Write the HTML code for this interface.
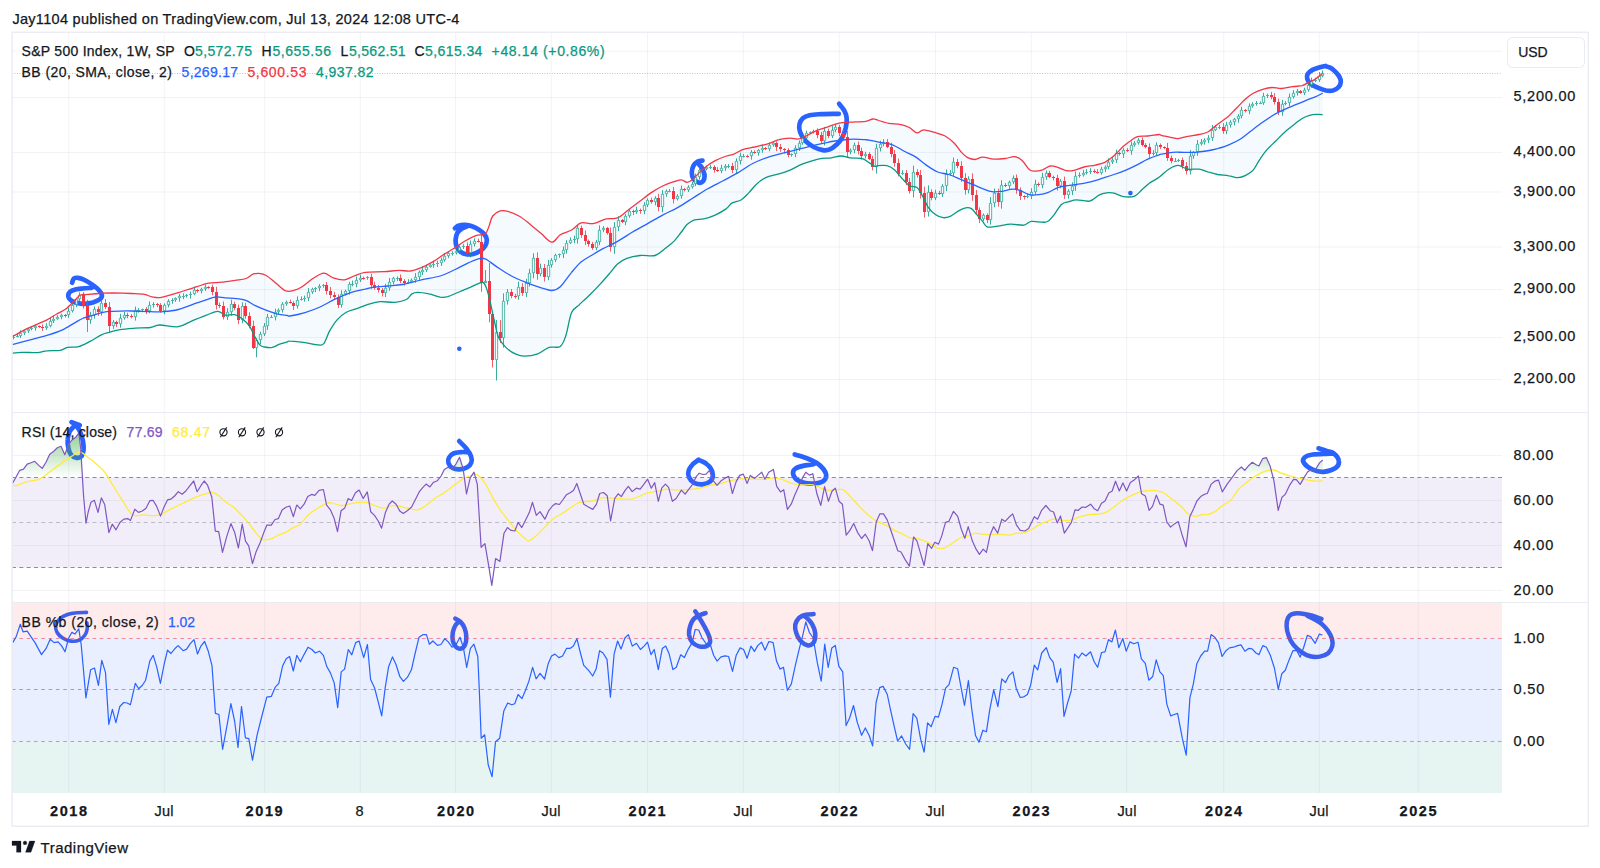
<!DOCTYPE html><html><head><meta charset="utf-8"><title>S&amp;P 500 Index chart</title>
<style>html,body{margin:0;padding:0;background:#fff}body{width:1600px;height:868px;overflow:hidden}svg{display:block}text{font-family:"Liberation Sans",Arial,sans-serif}</style></head><body>
<svg width="1600" height="868" viewBox="0 0 1600 868">
<rect width="1600" height="868" fill="#fff"/>
<rect x="12" y="477.5" width="1490" height="90" fill="#7e57c2" fill-opacity="0.1"/>
<rect x="12" y="602.5" width="1490" height="35.5" fill="#f23645" fill-opacity="0.1"/>
<rect x="12" y="638" width="1490" height="103" fill="#2962ff" fill-opacity="0.1"/>
<rect x="12" y="741" width="1490" height="52" fill="#089981" fill-opacity="0.1"/>
<path d="M68.75 32V793M164.25 32V793M264.75 32V793M360.25 32V793M455.5 32V793M551.25 32V793M647.5 32V793M743.25 32V793M839.25 32V793M935.5 32V793M1031.25 32V793M1126.75 32V793M1223.75 32V793M1319.25 32V793M1418.25 32V793M12 51.2H1502M12 97.5H1502M12 152.5H1502M12 192H1502M12 247H1502M12 289.5H1502M12 337.5H1502M12 379.5H1502M12 455.5H1502M12 500.5H1502M12 545.5H1502M12 590.5H1502" stroke="#131722" stroke-opacity="0.05" stroke-width="1" fill="none"/>
<defs><clipPath id="c1"><rect x="12" y="32" width="1490" height="380"/></clipPath>
<clipPath id="c2"><rect x="12" y="412" width="1490" height="190"/></clipPath>
<clipPath id="c3"><rect x="12" y="602" width="1490" height="191"/></clipPath>
<linearGradient id="gg" x1="0" y1="0" x2="0" y2="1" gradientUnits="userSpaceOnUse" ><stop offset="0" stop-color="#4caf50" stop-opacity="0.75"/><stop offset="1" stop-color="#4caf50" stop-opacity="0"/></linearGradient>
</defs>
<path d="M12 73.5H1502" stroke="#089981" stroke-opacity="0.4" stroke-width="1" stroke-dasharray="1 1.5" fill="none"/>
<g clip-path="url(#c1)">
<path d="M12.2 336.7C14.9 335.3 22.4 331.0 28.2 328.2C33.9 325.4 42.2 322.1 46.9 319.8C51.6 317.4 53.2 315.9 56.3 314.2C59.4 312.4 62.6 311.4 65.7 309.1C68.8 306.7 72.6 302.4 75.1 300.1C77.6 297.7 78.5 295.9 80.7 295.0C82.9 294.1 84.5 294.8 88.2 294.4C92.0 294.1 99.2 293.4 103.2 293.1C107.3 292.9 107.9 292.9 112.6 292.9C117.3 293.0 126.1 293.3 131.4 293.5C136.7 293.8 141.1 293.9 144.5 294.4C148.0 295.0 149.2 296.4 152.1 296.9C154.9 297.4 157.1 298.2 161.4 297.4C165.8 296.7 172.4 294.4 178.3 292.6C184.3 290.7 192.1 288.1 197.1 286.6C202.1 285.0 204.3 283.9 208.4 283.2C212.4 282.5 217.1 282.7 221.5 282.2C225.9 281.8 230.6 281.0 234.7 280.4C238.7 279.7 242.9 279.5 245.9 278.5C248.9 277.5 250.3 275.2 252.5 274.4C254.7 273.5 256.7 273.2 259.1 273.4C261.4 273.6 263.8 274.0 266.6 275.7C269.4 277.3 272.8 280.7 276.0 283.2C279.1 285.7 282.5 289.4 285.3 290.7C288.2 291.9 290.2 291.3 292.8 290.7C295.5 290.1 298.0 289.3 301.3 287.3C304.5 285.3 308.8 281.2 312.5 278.8C316.3 276.5 320.3 273.4 323.8 273.2C327.2 273.1 329.7 276.8 333.2 277.9C336.6 279.0 341.0 280.1 344.4 279.8C347.9 279.5 350.4 277.3 353.8 276.0C357.3 274.8 360.1 273.0 365.1 272.3C370.1 271.6 378.2 272.0 383.9 271.7C389.5 271.4 394.5 270.5 398.9 270.4C403.3 270.3 406.4 271.4 410.1 271.0C413.9 270.5 417.7 269.1 421.4 267.6C425.2 266.1 428.9 264.1 432.7 261.9C436.4 259.8 440.5 256.6 443.9 254.4C447.4 252.2 449.9 251.0 453.3 248.8C456.8 246.6 460.8 243.5 464.6 241.3C468.3 239.1 472.4 236.9 475.8 235.7C479.3 234.4 483.0 235.4 485.2 233.8C487.4 232.2 487.7 229.3 489.0 226.3C490.2 223.3 490.9 218.5 492.7 216.0C494.6 213.4 497.7 211.7 500.2 210.9C502.8 210.1 504.6 210.4 507.8 211.3C510.9 212.1 515.3 213.8 519.0 216.0C522.8 218.1 526.5 221.4 530.3 224.4C534.0 227.4 538.0 230.8 541.5 233.8C545.1 236.8 548.7 242.1 551.9 242.2C555.0 242.4 557.0 236.8 560.3 234.7C563.6 232.7 568.1 232.0 571.6 230.0C575.0 228.1 577.4 224.0 581.0 222.9C584.6 221.8 588.9 224.2 593.1 223.6C597.4 222.9 602.2 219.8 606.3 218.9C610.3 217.9 613.8 219.5 617.5 217.9C621.3 216.4 625.1 212.3 628.8 209.5C632.6 206.7 636.3 203.9 640.1 201.0C643.8 198.2 647.6 195.1 651.3 192.6C655.1 190.1 658.8 187.8 662.6 186.0C666.4 184.2 670.7 182.7 673.9 181.7C677.0 180.7 679.2 179.7 681.4 179.8C683.6 179.9 685.1 182.3 687.0 182.3C688.9 182.2 689.8 181.8 692.6 179.5C695.4 177.1 700.1 171.3 703.9 168.2C707.7 165.1 711.4 162.7 715.2 160.7C718.9 158.7 723.3 157.1 726.4 156.0C729.6 154.9 731.1 155.2 733.9 154.1C736.7 153.0 739.9 150.6 743.3 149.4C746.8 148.2 750.5 147.9 754.6 147.0C758.6 146.0 763.7 145.0 767.7 143.8C771.8 142.6 775.2 140.6 779.0 139.7C782.7 138.7 787.1 138.3 790.2 138.2C793.4 138.1 795.3 139.4 797.8 139.1C800.3 138.8 802.1 137.7 805.3 136.3C808.4 134.9 812.8 132.2 816.5 130.6C820.3 129.1 824.0 128.1 827.8 126.9C831.5 125.6 835.3 123.9 839.1 123.1C842.8 122.4 845.9 122.5 850.3 122.2C854.7 121.9 861.6 121.8 865.3 121.3C869.1 120.7 870.8 119.2 872.8 119.0C874.9 118.8 874.9 119.3 877.5 120.0C880.2 120.8 885.0 122.7 888.8 123.4C892.5 124.1 896.6 123.7 900.0 124.4C903.5 125.0 906.6 126.1 909.4 127.5C912.2 129.0 914.6 132.4 916.9 132.8C919.3 133.2 920.7 129.9 923.5 129.8C926.3 129.7 930.2 131.2 933.8 132.2C937.4 133.3 941.6 134.1 945.1 136.0C948.5 137.9 951.7 140.7 954.5 143.5C957.3 146.3 959.8 150.5 962.0 152.9C964.2 155.2 965.4 156.5 967.6 157.6C969.8 158.7 972.6 159.5 975.1 159.5C977.6 159.4 979.5 157.3 982.6 157.2C985.8 157.1 990.1 158.9 993.9 159.1C997.7 159.3 1001.7 158.9 1005.2 158.5C1008.6 158.1 1011.7 156.3 1014.5 156.6C1017.4 157.0 1019.6 158.2 1022.1 160.4C1024.6 162.6 1027.4 168.0 1029.6 169.8C1031.8 171.6 1033.0 171.1 1035.2 171.1C1037.4 171.1 1040.2 170.6 1042.7 169.8C1045.2 168.9 1047.7 166.4 1050.2 166.0C1052.7 165.6 1055.2 166.6 1057.7 167.3C1060.2 168.1 1062.7 169.8 1065.2 170.3C1067.7 170.9 1069.6 171.3 1072.7 170.7C1075.9 170.2 1080.2 167.9 1084.0 167.0C1087.8 166.0 1091.8 165.9 1095.3 165.1C1098.7 164.3 1101.5 163.8 1104.7 162.3C1107.8 160.7 1110.9 158.4 1114.0 155.7C1117.2 153.0 1120.3 149.1 1123.4 146.3C1126.6 143.6 1130.3 140.8 1132.8 139.2C1135.3 137.5 1135.9 136.9 1138.4 136.4C1140.9 135.8 1144.4 136.3 1147.8 136.0C1151.3 135.7 1156.9 134.6 1159.1 134.5C1161.3 134.4 1159.3 134.9 1161.3 135.4C1163.2 135.9 1167.8 136.8 1170.6 137.3C1173.5 137.8 1175.3 138.8 1178.2 138.6C1181.0 138.4 1184.1 137.0 1187.5 136.4C1191.0 135.7 1195.4 135.3 1198.8 134.5C1202.2 133.7 1205.1 133.4 1208.2 131.7C1211.3 129.9 1214.5 126.5 1217.6 124.2C1220.7 121.8 1223.8 120.2 1227.0 117.6C1230.1 114.9 1233.2 111.3 1236.4 108.2C1239.5 105.1 1242.9 101.3 1245.7 98.8C1248.6 96.3 1250.4 94.7 1253.2 93.2C1256.1 91.6 1259.5 90.4 1262.6 89.4C1265.8 88.5 1268.9 87.7 1272.0 87.5C1275.1 87.4 1278.0 88.6 1281.4 88.5C1284.8 88.3 1289.2 87.1 1292.7 86.6C1296.1 86.1 1299.2 86.4 1302.1 85.7C1304.9 84.9 1307.4 83.0 1309.6 81.9C1311.8 80.8 1313.0 80.5 1315.2 79.1C1317.4 77.7 1321.5 74.4 1322.7 73.5L1322.7 114.8C1321.8 114.7 1319.3 114.3 1317.1 114.4C1314.9 114.5 1312.1 114.6 1309.6 115.3C1307.1 116.0 1304.6 117.0 1302.1 118.5C1299.6 120.0 1297.4 122.0 1294.5 124.2C1291.7 126.3 1288.3 128.8 1285.2 131.7C1282.0 134.5 1278.9 137.9 1275.8 141.0C1272.6 144.2 1269.2 147.1 1266.4 150.4C1263.6 153.7 1261.1 157.5 1258.9 160.8C1256.7 164.0 1255.4 167.7 1253.2 170.1C1251.1 172.6 1248.2 174.1 1245.7 175.4C1243.2 176.7 1241.0 177.6 1238.2 177.7C1235.4 177.7 1232.3 176.3 1228.8 175.8C1225.4 175.2 1221.0 175.1 1217.6 174.5C1214.1 173.8 1211.3 172.9 1208.2 172.0C1205.1 171.1 1202.2 169.7 1198.8 169.2C1195.4 168.7 1191.0 169.8 1187.5 169.2C1184.1 168.6 1181.3 165.4 1178.2 165.4C1175.0 165.4 1171.9 167.2 1168.8 169.2C1165.6 171.2 1162.3 175.0 1159.1 177.3C1155.9 179.6 1152.5 180.9 1149.7 182.9C1146.9 185.0 1144.7 187.3 1142.2 189.5C1139.7 191.7 1137.8 194.9 1134.7 196.1C1131.6 197.3 1126.9 197.1 1123.4 196.6C1120.0 196.2 1116.9 193.9 1114.0 193.2C1111.2 192.6 1109.0 192.6 1106.5 192.9C1104.0 193.2 1101.8 193.7 1099.0 195.1C1096.2 196.5 1093.4 200.3 1089.6 201.1C1085.9 201.9 1079.9 199.7 1076.5 199.8C1073.1 199.9 1071.5 200.9 1069.0 201.7C1066.5 202.5 1064.0 202.3 1061.5 204.5C1059.0 206.7 1056.5 211.9 1054.0 214.8C1051.5 217.7 1050.2 220.9 1046.5 222.0C1042.7 223.1 1035.2 220.9 1031.4 221.4C1027.7 221.9 1027.4 224.7 1023.9 225.2C1020.5 225.6 1015.2 224.1 1010.8 224.2C1006.4 224.4 1001.6 225.6 997.7 226.1C993.7 226.6 989.8 227.8 987.3 227.0C984.8 226.3 984.4 223.4 982.6 221.4C980.9 219.4 978.9 217.0 977.0 214.8C975.1 212.7 973.2 209.8 971.4 208.6C969.5 207.5 967.9 207.5 965.7 207.9C963.5 208.3 960.7 209.7 958.2 211.1C955.7 212.5 953.2 215.1 950.7 216.1C948.2 217.2 945.7 217.9 943.2 217.7C940.7 217.4 938.2 216.6 935.7 214.8C933.2 213.1 930.4 210.5 928.2 207.3C926.0 204.2 924.4 199.3 922.6 196.1C920.7 192.8 919.1 189.3 916.9 187.6C914.7 185.9 911.9 187.3 909.4 185.7C906.9 184.2 904.4 180.9 901.9 178.2C899.4 175.6 896.9 171.9 894.4 169.8C891.9 167.7 889.7 166.3 886.9 165.7C884.1 165.0 879.5 165.5 877.5 165.7C875.5 165.8 876.1 166.8 874.7 166.3C873.3 165.8 871.3 163.9 869.1 162.6C866.9 161.2 864.7 159.2 861.6 158.4C858.5 157.7 853.8 158.3 850.3 157.9C846.9 157.5 844.1 156.0 840.9 156.0C837.8 156.0 834.7 157.5 831.5 157.9C828.4 158.3 825.3 158.0 822.2 158.4C819.0 158.9 816.2 159.7 812.8 160.7C809.3 161.7 805.3 162.9 801.5 164.4C797.8 166.0 794.0 168.5 790.2 170.1C786.5 171.6 783.1 172.6 779.0 173.8C774.9 175.1 769.6 175.9 765.8 177.6C762.1 179.3 759.3 181.6 756.5 184.2C753.6 186.7 751.5 190.0 749.0 192.6C746.4 195.2 744.3 198.0 741.4 199.7C738.6 201.5 734.6 201.5 732.1 202.9C729.6 204.4 729.2 206.5 726.4 208.6C723.6 210.6 718.9 213.4 715.2 215.1C711.4 216.8 707.3 218.1 703.9 218.9C700.5 219.7 697.3 218.9 694.5 219.8C691.7 220.8 689.2 222.5 687.0 224.5C684.8 226.5 683.6 229.2 681.4 232.0C679.2 234.8 676.7 238.6 673.9 241.4C671.0 244.2 667.6 246.6 664.5 248.9C661.3 251.3 659.2 254.4 655.1 255.5C651.0 256.6 644.8 255.0 640.1 255.5C635.4 256.0 630.7 256.9 626.9 258.3C623.2 259.7 620.4 261.5 617.5 263.9C614.7 266.4 612.9 269.7 610.0 272.9C607.2 276.2 604.0 280.0 600.6 283.6C597.3 287.3 593.4 291.3 589.9 294.7C586.5 298.1 581.8 302.2 580.0 303.9C578.2 305.7 580.5 303.7 579.1 305.1C577.7 306.6 573.8 307.6 571.6 312.6C569.4 317.6 567.8 329.5 566.0 335.2C564.1 340.8 563.1 344.4 560.3 346.4C557.5 348.5 552.8 346.1 549.1 347.4C545.3 348.6 541.9 352.5 537.8 353.9C533.7 355.4 528.4 356.2 524.7 356.2C520.9 356.2 518.4 355.4 515.3 353.9C512.1 352.5 508.7 350.2 505.9 347.4C503.1 344.5 500.2 341.3 498.4 337.0C496.5 332.8 495.9 327.3 494.6 322.0C493.4 316.7 492.1 310.4 490.9 305.1C489.6 299.8 488.4 293.9 487.1 290.1C485.9 286.4 484.9 283.6 483.4 282.6C481.8 281.6 479.9 283.1 477.7 283.9C475.5 284.7 473.3 285.9 470.2 287.3C467.1 288.6 462.7 290.4 459.0 292.0C455.2 293.5 450.8 295.8 447.7 296.7C444.6 297.5 443.3 297.5 440.2 297.1C437.0 296.6 432.7 294.6 428.9 293.9C425.2 293.1 420.5 292.4 417.7 292.4C414.8 292.4 413.9 292.7 412.0 293.9C410.1 295.1 409.2 298.1 406.4 299.5C403.6 300.9 399.5 301.9 395.1 302.3C390.7 302.7 384.5 301.4 380.1 301.7C375.7 302.1 372.6 303.1 368.8 304.2C365.1 305.3 361.3 307.0 357.6 308.3C353.8 309.7 349.8 310.3 346.3 312.3C342.9 314.2 339.7 317.0 336.9 320.1C334.1 323.3 331.6 327.5 329.4 331.4C327.2 335.3 325.7 341.4 323.8 343.6C321.9 345.9 321.3 345.1 318.2 344.9C315.0 344.8 309.7 343.3 305.0 342.7C300.3 342.0 293.0 341.3 290.0 341.2C287.0 341.0 288.9 341.4 287.2 341.9C285.5 342.4 282.2 343.3 279.7 344.2C277.2 345.1 274.7 346.9 272.2 347.4C269.7 347.8 266.7 347.4 264.7 347.0C262.7 346.6 261.6 346.7 260.0 345.1C258.4 343.6 257.0 340.7 255.3 337.6C253.6 334.5 251.9 329.5 249.7 326.4C247.5 323.2 244.7 320.8 242.2 318.8C239.7 316.9 237.5 315.3 234.7 314.7C231.8 314.1 228.1 315.7 225.3 315.1C222.5 314.5 220.9 311.3 217.8 311.3C214.6 311.3 210.9 313.5 206.5 315.1C202.1 316.7 196.2 319.2 191.5 321.1C186.8 323.0 183.7 326.1 178.3 326.7C173.0 327.4 164.3 324.9 159.6 325.0C154.9 325.2 154.2 326.9 150.2 327.5C146.1 328.0 140.2 327.9 135.2 328.2C130.2 328.6 124.5 329.0 120.1 329.7C115.8 330.4 112.0 331.5 108.9 332.4C105.8 333.2 104.5 333.3 101.4 334.8C98.2 336.3 93.9 339.4 90.1 341.4C86.4 343.3 82.6 345.6 78.8 346.6C75.1 347.6 70.7 346.8 67.6 347.4C64.5 348.0 63.5 349.8 60.1 350.4C56.6 350.9 50.7 350.4 46.9 350.8C43.2 351.1 41.6 352.4 37.5 352.6C33.5 352.9 26.8 352.2 22.5 352.3C18.3 352.4 13.9 353.0 12.2 353.2" fill="#2196f3" fill-opacity="0.05"/>
<path d="M 72.1 282.7 C 72.4 282.1 72.9 279.4 73.9 278.6 C 74.8 277.8 76.1 277.7 77.7 277.8 C 79.2 277.9 80.9 278.2 83.2 279.3 C 85.5 280.3 89.0 282.4 91.5 284.1 C 94.0 285.9 96.7 287.8 98.4 289.7 C 100.1 291.5 101.6 293.6 101.9 295.2 C 102.1 296.8 101.3 298.1 99.8 299.3 C 98.3 300.6 95.4 301.7 92.9 302.5 C 90.3 303.2 87.1 303.7 84.6 303.8 C 82.0 304.0 79.9 303.7 77.7 303.1 C 75.5 302.6 73.0 301.8 71.4 300.7 C 69.9 299.6 68.6 298.1 68.3 296.6 C 68.1 295.1 68.7 292.9 70.1 291.7 C 71.4 290.5 74.1 289.9 76.3 289.3 C 78.5 288.7 80.7 288.5 83.2 288.3 C 85.7 288.0 90.1 288.0 91.5 287.9" fill="none" stroke="#2962ff" stroke-width="4.7" stroke-linecap="round" stroke-linejoin="round"/>
<path d="M 455.0 228.3 C 455.7 227.9 457.2 226.1 458.8 225.6 C 460.5 225.0 462.9 224.8 465.0 224.9 C 467.2 225.0 469.7 225.4 472.0 226.3 C 474.3 227.1 476.8 228.4 478.9 229.7 C 481.0 231.0 483.1 232.5 484.4 234.2 C 485.7 235.9 486.7 237.8 486.8 239.7 C 486.9 241.7 486.2 244.1 485.1 246.0 C 484.0 247.8 482.2 249.5 480.3 250.8 C 478.3 252.1 475.6 253.3 473.3 253.9 C 471.0 254.5 468.6 254.7 466.4 254.3 C 464.2 253.9 461.9 252.9 460.2 251.5 C 458.5 250.1 457.2 248.0 456.4 246.0 C 455.7 243.9 455.5 241.2 455.7 239.0 C 455.9 236.9 456.5 234.6 457.4 232.8 C 458.4 231.1 460.0 229.8 461.6 228.7 C 463.2 227.6 466.2 226.7 467.1 226.3" fill="none" stroke="#2962ff" stroke-width="4.7" stroke-linecap="round" stroke-linejoin="round"/>
<path d="M 702.5 160.6 C 701.7 160.7 699.2 160.7 697.7 161.6 C 696.2 162.5 694.5 163.9 693.5 165.7 C 692.5 167.6 691.8 170.5 691.8 172.7 C 691.8 174.9 692.3 177.2 693.5 178.9 C 694.7 180.6 697.4 182.3 699.0 182.7 C 700.7 183.0 702.3 182.1 703.2 181.0 C 704.1 179.9 704.5 177.7 704.6 176.1 C 704.6 174.5 704.1 172.8 703.5 171.3 C 703.0 169.8 702.2 168.2 701.5 167.1 C 700.8 166.1 699.7 165.4 699.4 165.1" fill="none" stroke="#2962ff" stroke-width="4.7" stroke-linecap="round" stroke-linejoin="round"/>
<path d="M 838.8 113.8 C 835.9 113.9 826.3 113.9 821.5 114.1 C 816.7 114.4 812.8 114.5 809.7 115.2 C 806.6 115.9 804.6 116.7 802.8 118.3 C 801.1 119.9 799.8 122.2 799.4 124.5 C 798.9 126.8 799.1 129.5 800.1 132.1 C 801.0 134.8 802.7 138.0 804.9 140.4 C 807.1 142.8 810.2 145.0 813.2 146.7 C 816.2 148.3 820.1 149.6 822.9 150.1 C 825.6 150.6 827.5 150.3 829.8 149.4 C 832.1 148.5 834.6 146.5 836.7 144.6 C 838.8 142.6 840.7 140.4 842.2 137.7 C 843.7 134.9 844.9 131.2 845.7 128.0 C 846.4 124.8 847.0 121.2 846.7 118.3 C 846.5 115.4 845.6 113.1 844.3 110.7 C 843.0 108.3 840.0 104.9 839.1 103.8" fill="none" stroke="#2962ff" stroke-width="4.7" stroke-linecap="round" stroke-linejoin="round"/>
<path d="M 1325.6 65.9 C 1324.5 66.2 1321.3 66.9 1319.0 67.6 C 1316.8 68.3 1314.0 69.0 1312.1 70.1 C 1310.2 71.2 1308.4 72.7 1307.6 74.2 C 1306.8 75.7 1306.8 77.4 1307.3 79.0 C 1307.8 80.7 1309.0 82.4 1310.7 83.9 C 1312.5 85.3 1315.1 86.6 1317.7 87.7 C 1320.2 88.8 1323.4 90.0 1326.0 90.5 C 1328.5 90.9 1330.8 91.0 1332.9 90.5 C 1335.0 89.9 1337.1 88.8 1338.4 87.3 C 1339.7 85.9 1340.7 83.7 1340.8 81.8 C 1340.9 80.0 1340.1 78.0 1339.1 76.3 C 1338.1 74.6 1336.5 72.9 1335.0 71.4 C 1333.5 70.0 1331.6 68.5 1330.1 67.6 C 1328.6 66.8 1326.7 66.5 1326.0 66.3" fill="none" stroke="#2962ff" stroke-width="4.7" stroke-linecap="round" stroke-linejoin="round"/>
<circle cx="459.3" cy="348.7" r="2.3" fill="#2962ff"/><circle cx="1130.4" cy="193.1" r="2.3" fill="#2962ff"/>
<path d="M13.5 334.9V337.0M13.5 338.0V339.3M17.5 333.6V336.0M17.5 337.0V337.4M20.5 330.3V333.0M20.5 336.0V338.0M24.5 329.9V331.0M24.5 333.0V335.0M28.5 328.1V329.0M28.5 331.0V333.0M31.5 326.7V328.0M31.5 329.0V330.3M35.5 324.5V326.0M35.5 328.0V330.6M46.5 323.2V326.0M46.5 328.0V329.8M50.5 317.4V321.0M50.5 326.0V327.2M53.5 315.3V319.0M53.5 321.0V323.0M57.5 315.2V317.0M57.5 319.0V319.8M61.5 313.7V315.0M61.5 317.0V319.3M68.5 307.5V311.0M68.5 315.0V317.9M72.5 302.0V305.0M72.5 311.0V312.5M76.5 297.6V299.0M76.5 305.0V307.2M79.5 292.3V295.0M79.5 299.0V301.9M90.5 311.8V315.0M90.5 320.0V323.8M94.5 306.5V309.0M94.5 315.0V318.6M101.5 298.6V303.0M101.5 312.0V315.7M113.5 320.1V322.0M113.5 326.0V328.9M120.5 313.9V318.0M120.5 324.0V327.7M124.5 311.9V315.0M124.5 318.0V319.6M135.5 306.6V310.0M135.5 317.0V320.6M138.5 308.0V310.0M138.5 311.0V312.7M142.5 308.7V309.0M142.5 310.0V312.2M149.5 301.5V305.0M149.5 311.0V313.3M153.5 302.1V304.0M153.5 305.0V307.7M164.5 303.4V305.0M164.5 311.0V314.2M168.5 299.2V301.0M168.5 305.0V307.3M172.5 298.2V300.0M172.5 301.0V303.8M175.5 297.4V298.0M175.5 300.0V301.9M179.5 294.0V296.0M179.5 298.0V301.6M183.5 293.3V296.0M183.5 297.0V299.1M186.5 294.0V295.0M186.5 296.0V297.6M190.5 291.7V294.0M190.5 295.0V298.5M194.5 286.6V290.0M194.5 294.0V295.2M201.5 287.7V289.0M201.5 291.0V293.4M205.5 284.4V287.0M205.5 289.0V290.9M227.5 308.1V312.0M227.5 317.0V320.1M231.5 299.7V304.0M231.5 312.0V315.9M242.5 302.4V306.0M242.5 320.0V323.3M256.5 338.0V340.0M256.5 348.0V357.3M260.5 331.7V334.0M260.5 340.0V344.3M264.5 323.0V326.0M264.5 334.0V336.1M267.5 313.8V317.0M267.5 326.0V329.8M271.5 315.0V317.0M271.5 318.0V317.9M275.5 308.7V312.0M275.5 317.0V320.4M278.5 308.4V310.0M278.5 312.0V314.3M282.5 302.2V304.0M282.5 310.0V312.6M286.5 300.6V302.0M286.5 304.0V305.8M297.5 296.4V300.0M297.5 306.0V308.6M301.5 296.4V299.0M301.5 300.0V300.5M304.5 295.6V298.0M304.5 299.0V301.6M308.5 288.1V292.0M308.5 298.0V301.1M312.5 287.7V289.0M312.5 292.0V293.9M315.5 287.1V288.0M315.5 289.0V292.1M319.5 284.1V286.0M319.5 288.0V291.2M323.5 283.9V285.0M323.5 286.0V287.7M341.5 290.2V294.0M341.5 305.0V307.6M345.5 289.8V291.0M345.5 294.0V295.6M349.5 281.9V284.0M349.5 291.0V294.6M352.5 280.6V284.0M352.5 285.0V286.3M356.5 276.5V280.0M356.5 284.0V287.3M360.5 274.6V278.0M360.5 280.0V282.0M367.5 276.1V277.0M367.5 278.0V279.7M385.5 283.9V288.0M385.5 293.0V297.0M389.5 277.9V282.0M389.5 288.0V290.9M393.5 276.8V278.0M393.5 282.0V284.6M397.5 276.4V278.0M397.5 279.0V281.1M408.5 279.2V282.0M408.5 283.0V283.7M411.5 278.4V280.0M411.5 282.0V283.1M415.5 273.1V277.0M415.5 280.0V282.8M419.5 270.5V272.0M419.5 277.0V279.9M422.5 266.0V270.0M422.5 272.0V275.0M426.5 264.7V267.0M426.5 270.0V272.0M430.5 264.2V265.0M430.5 267.0V267.6M433.5 260.7V264.0M433.5 265.0V267.8M437.5 260.6V263.0M437.5 264.0V267.0M441.5 257.7V260.0M441.5 263.0V266.0M444.5 252.9V256.0M444.5 260.0V261.7M448.5 251.7V253.0M448.5 256.0V258.1M452.5 251.2V253.0M452.5 254.0V255.7M456.5 249.1V251.0M456.5 253.0V254.5M459.5 245.4V247.0M459.5 251.0V254.2M463.5 244.1V246.0M463.5 247.0V249.0M470.5 240.5V244.0M470.5 253.0V257.4M474.5 238.3V241.0M474.5 244.0V246.5M485.5 279.8V281.0M485.5 283.0V270.0M496.5 320.0V332.0M496.5 360.0V380.5M503.5 293.3V301.0M503.5 338.0V347.7M507.5 289.1V292.0M507.5 301.0V304.6M518.5 281.8V287.0M518.5 296.0V299.8M526.5 278.8V283.0M526.5 293.0V297.1M529.5 268.8V273.0M529.5 283.0V286.6M533.5 253.2V258.0M533.5 273.0V278.3M540.5 263.7V268.0M540.5 274.0V276.3M548.5 259.9V265.0M548.5 277.0V280.2M551.5 258.1V260.0M551.5 265.0V267.6M555.5 253.7V255.0M555.5 260.0V262.1M559.5 253.5V254.0M559.5 255.0V257.8M563.5 246.5V250.0M563.5 254.0V258.1M566.5 240.2V243.0M566.5 250.0V253.7M570.5 237.4V240.0M570.5 243.0V244.1M574.5 235.6V239.0M574.5 240.0V243.3M577.5 225.2V228.0M577.5 239.0V243.5M596.5 239.9V242.0M596.5 248.0V250.3M599.5 225.3V230.0M599.5 242.0V245.2M603.5 226.1V228.0M603.5 230.0V232.1M614.5 222.1V227.0M614.5 247.0V253.8M618.5 216.2V220.0M618.5 227.0V231.1M625.5 214.1V216.0M625.5 222.0V225.2M629.5 209.3V211.0M629.5 216.0V217.7M636.5 206.7V210.0M636.5 212.0V213.9M644.5 202.2V205.0M644.5 211.0V214.2M647.5 198.4V200.0M647.5 205.0V207.0M655.5 196.2V198.0M655.5 202.0V205.4M662.5 190.1V194.0M662.5 207.0V212.3M666.5 189.5V191.0M666.5 194.0V196.8M669.5 189.0V191.0M669.5 192.0V192.2M677.5 194.3V196.0M677.5 199.0V200.5M681.5 185.6V189.0M681.5 196.0V198.7M688.5 185.2V187.0M688.5 190.0V192.0M692.5 181.6V184.0M692.5 187.0V188.6M695.5 173.5V177.0M695.5 184.0V186.1M699.5 166.7V170.0M699.5 177.0V179.7M703.5 167.6V169.0M703.5 170.0V170.8M706.5 165.5V167.0M706.5 169.0V170.3M710.5 164.6V167.0M710.5 168.0V169.0M721.5 164.8V168.0M721.5 171.0V173.2M725.5 164.1V166.0M725.5 168.0V170.9M728.5 164.1V166.0M728.5 167.0V168.1M736.5 158.3V161.0M736.5 170.0V173.7M740.5 152.6V156.0M740.5 161.0V164.5M743.5 154.0V156.0M743.5 157.0V157.5M751.5 150.1V152.0M751.5 156.0V159.7M758.5 149.0V150.0M758.5 153.0V155.7M762.5 145.4V148.0M762.5 150.0V152.8M769.5 142.7V145.0M769.5 149.0V151.3M773.5 142.2V143.0M773.5 145.0V146.7M791.5 153.4V154.0M791.5 155.0V156.7M795.5 145.2V148.0M795.5 154.0V157.2M799.5 140.4V143.0M799.5 148.0V151.0M802.5 136.4V138.0M802.5 143.0V144.8M806.5 130.6V133.0M806.5 138.0V140.6M810.5 131.3V132.0M810.5 133.0V133.2M813.5 129.6V131.0M813.5 132.0V133.4M824.5 126.8V131.0M824.5 141.0V145.5M832.5 125.4V130.0M832.5 136.0V138.1M835.5 123.7V127.0M835.5 130.0V132.3M850.5 148.4V150.0M850.5 152.0V154.3M854.5 142.5V145.0M854.5 150.0V153.3M865.5 151.7V154.0M865.5 156.0V158.5M876.5 143.8V148.0M876.5 167.0V173.6M880.5 140.7V144.0M880.5 148.0V151.5M883.5 139.2V142.0M883.5 144.0V146.3M902.5 170.2V173.0M902.5 174.0V174.9M913.5 165.6V172.0M913.5 191.0V197.5M928.5 185.3V192.0M928.5 212.0V216.6M935.5 189.8V193.0M935.5 198.0V200.1M942.5 184.1V186.0M942.5 194.0V196.9M946.5 169.4V174.0M946.5 186.0V191.1M950.5 170.1V173.0M950.5 174.0V175.7M953.5 157.6V162.0M953.5 173.0V176.5M968.5 176.3V179.0M968.5 190.0V193.4M983.5 213.5V215.0M983.5 219.0V221.2M990.5 197.1V203.0M990.5 220.0V224.6M994.5 188.6V193.0M994.5 203.0V207.2M1001.5 180.2V185.0M1001.5 202.0V208.7M1009.5 180.5V182.0M1009.5 186.0V188.8M1013.5 175.4V178.0M1013.5 182.0V184.1M1027.5 193.2V196.0M1027.5 197.0V198.1M1031.5 188.3V192.0M1031.5 196.0V199.1M1035.5 179.7V184.0M1035.5 192.0V194.8M1042.5 172.8V177.0M1042.5 185.0V188.3M1046.5 170.6V173.0M1046.5 177.0V179.8M1060.5 179.1V181.0M1060.5 186.0V188.2M1068.5 189.2V191.0M1068.5 195.0V198.6M1072.5 182.3V186.0M1072.5 191.0V195.1M1075.5 171.5V176.0M1075.5 186.0V190.9M1079.5 172.4V175.0M1079.5 176.0V177.6M1083.5 169.7V173.0M1083.5 175.0V176.6M1086.5 169.1V172.0M1086.5 173.0V174.5M1090.5 168.2V171.0M1090.5 172.0V174.0M1101.5 166.7V169.0M1101.5 173.0V174.7M1105.5 165.4V167.0M1105.5 169.0V171.9M1108.5 158.3V162.0M1108.5 167.0V169.3M1112.5 157.4V160.0M1112.5 162.0V164.0M1116.5 149.7V153.0M1116.5 160.0V163.0M1123.5 148.2V150.0M1123.5 154.0V158.0M1131.5 141.5V145.0M1131.5 151.0V154.8M1134.5 141.0V143.0M1134.5 145.0V146.7M1138.5 138.0V140.0M1138.5 143.0V144.6M1153.5 150.1V153.0M1153.5 154.0V155.6M1156.5 142.3V145.0M1156.5 153.0V156.0M1175.5 158.0V161.0M1175.5 162.0V161.9M1178.5 158.9V160.0M1178.5 161.0V162.0M1190.5 150.1V156.0M1190.5 171.0V174.5M1193.5 151.1V152.0M1193.5 156.0V158.8M1197.5 140.0V144.0M1197.5 152.0V155.8M1201.5 139.0V142.0M1201.5 144.0V145.5M1204.5 138.2V140.0M1204.5 142.0V144.7M1208.5 135.1V138.0M1208.5 140.0V143.1M1212.5 125.0V130.0M1212.5 138.0V141.0M1215.5 125.6V127.0M1215.5 130.0V131.1M1219.5 124.8V127.0M1219.5 128.0V129.2M1226.5 121.9V125.0M1226.5 131.0V134.2M1230.5 120.1V122.0M1230.5 125.0V127.6M1234.5 117.9V119.0M1234.5 122.0V125.4M1238.5 114.1V116.0M1238.5 119.0V122.7M1241.5 106.8V110.0M1241.5 116.0V118.4M1249.5 103.3V106.0M1249.5 111.0V114.2M1252.5 102.2V104.0M1252.5 106.0V107.7M1256.5 101.0V103.0M1256.5 104.0V105.7M1260.5 101.4V103.0M1260.5 104.0V104.1M1263.5 92.8V96.0M1263.5 103.0V104.9M1267.5 93.6V95.0M1267.5 96.0V98.1M1282.5 99.9V104.0M1282.5 112.0V115.7M1285.5 101.1V103.0M1285.5 104.0V105.3M1289.5 93.5V97.0M1289.5 103.0V106.2M1293.5 90.1V93.0M1293.5 97.0V98.6M1297.5 89.0V91.0M1297.5 93.0V95.6M1304.5 87.7V90.0M1304.5 93.0V95.0M1308.5 81.5V85.0M1308.5 90.0V91.7M1311.5 77.6V81.0M1311.5 85.0V87.8M1315.5 77.7V80.0M1315.5 81.0V82.2M1319.5 72.0V76.0M1319.5 80.0V81.9M1322.5 70.4V73.0M1322.5 76.0V77.3" stroke="#089981" stroke-width="0.8" fill="none"/>
<path d="M12.0 337.5h3M16.0 336.5h3M19.35 333.35h2.3v2.30h-2.3zM23.35 331.35h2.3v1.30h-2.3zM27.35 329.35h2.3v1.30h-2.3zM30.0 328.5h3M34.35 326.35h2.3v1.30h-2.3zM45.35 326.35h2.3v1.30h-2.3zM49.35 321.35h2.3v4.30h-2.3zM52.35 319.35h2.3v1.30h-2.3zM56.35 317.35h2.3v1.30h-2.3zM60.35 315.35h2.3v1.30h-2.3zM67.35 311.35h2.3v3.30h-2.3zM71.35 305.35h2.3v5.30h-2.3zM75.35 299.35h2.3v5.30h-2.3zM78.35 295.35h2.3v3.30h-2.3zM89.35 315.35h2.3v4.30h-2.3zM93.35 309.35h2.3v5.30h-2.3zM100.35 303.35h2.3v8.30h-2.3zM112.35 322.35h2.3v3.30h-2.3zM119.35 318.35h2.3v5.30h-2.3zM123.35 315.35h2.3v2.30h-2.3zM134.35 310.35h2.3v6.30h-2.3zM137.0 310.5h3M141.0 309.5h3M148.35 305.35h2.3v5.30h-2.3zM152.0 304.5h3M163.35 305.35h2.3v5.30h-2.3zM167.35 301.35h2.3v3.30h-2.3zM171.0 300.5h3M174.35 298.35h2.3v1.30h-2.3zM178.35 296.35h2.3v1.30h-2.3zM182.0 296.5h3M185.0 295.5h3M189.0 294.5h3M193.35 290.35h2.3v3.30h-2.3zM200.35 289.35h2.3v1.30h-2.3zM204.35 287.35h2.3v1.30h-2.3zM226.35 312.35h2.3v4.30h-2.3zM230.35 304.35h2.3v7.30h-2.3zM241.35 306.35h2.3v13.30h-2.3zM255.35 340.35h2.3v7.30h-2.3zM259.35 334.35h2.3v5.30h-2.3zM263.35 326.35h2.3v7.30h-2.3zM266.35 317.35h2.3v8.30h-2.3zM270.0 317.5h3M274.35 312.35h2.3v4.30h-2.3zM277.35 310.35h2.3v1.30h-2.3zM281.35 304.35h2.3v5.30h-2.3zM285.35 302.35h2.3v1.30h-2.3zM296.35 300.35h2.3v5.30h-2.3zM300.0 299.5h3M303.0 298.5h3M307.35 292.35h2.3v5.30h-2.3zM311.35 289.35h2.3v2.30h-2.3zM314.0 288.5h3M318.35 286.35h2.3v1.30h-2.3zM322.0 285.5h3M340.35 294.35h2.3v10.30h-2.3zM344.35 291.35h2.3v2.30h-2.3zM348.35 284.35h2.3v6.30h-2.3zM351.0 284.5h3M355.35 280.35h2.3v3.30h-2.3zM359.35 278.35h2.3v1.30h-2.3zM366.0 277.5h3M384.35 288.35h2.3v4.30h-2.3zM388.35 282.35h2.3v5.30h-2.3zM392.35 278.35h2.3v3.30h-2.3zM396.0 278.5h3M407.0 282.5h3M410.35 280.35h2.3v1.30h-2.3zM414.35 277.35h2.3v2.30h-2.3zM418.35 272.35h2.3v4.30h-2.3zM421.35 270.35h2.3v1.30h-2.3zM425.35 267.35h2.3v2.30h-2.3zM429.35 265.35h2.3v1.30h-2.3zM432.0 264.5h3M436.0 263.5h3M440.35 260.35h2.3v2.30h-2.3zM443.35 256.35h2.3v3.30h-2.3zM447.35 253.35h2.3v2.30h-2.3zM451.0 253.5h3M455.35 251.35h2.3v1.30h-2.3zM458.35 247.35h2.3v3.30h-2.3zM462.0 246.5h3M469.35 244.35h2.3v8.30h-2.3zM473.35 241.35h2.3v2.30h-2.3zM484.35 281.35h2.3v1.30h-2.3zM495.35 332.35h2.3v27.30h-2.3zM502.35 301.35h2.3v36.30h-2.3zM506.35 292.35h2.3v8.30h-2.3zM517.35 287.35h2.3v8.30h-2.3zM525.35 283.35h2.3v9.30h-2.3zM528.35 273.35h2.3v9.30h-2.3zM532.35 258.35h2.3v14.30h-2.3zM539.35 268.35h2.3v5.30h-2.3zM547.35 265.35h2.3v11.30h-2.3zM550.35 260.35h2.3v4.30h-2.3zM554.35 255.35h2.3v4.30h-2.3zM558.0 254.5h3M562.35 250.35h2.3v3.30h-2.3zM565.35 243.35h2.3v6.30h-2.3zM569.35 240.35h2.3v2.30h-2.3zM573.0 239.5h3M576.35 228.35h2.3v10.30h-2.3zM595.35 242.35h2.3v5.30h-2.3zM598.35 230.35h2.3v11.30h-2.3zM602.35 228.35h2.3v1.30h-2.3zM613.35 227.35h2.3v19.30h-2.3zM617.35 220.35h2.3v6.30h-2.3zM624.35 216.35h2.3v5.30h-2.3zM628.35 211.35h2.3v4.30h-2.3zM635.35 210.35h2.3v1.30h-2.3zM643.35 205.35h2.3v5.30h-2.3zM646.35 200.35h2.3v4.30h-2.3zM654.35 198.35h2.3v3.30h-2.3zM661.35 194.35h2.3v12.30h-2.3zM665.35 191.35h2.3v2.30h-2.3zM668.0 191.5h3M676.35 196.35h2.3v2.30h-2.3zM680.35 189.35h2.3v6.30h-2.3zM687.35 187.35h2.3v2.30h-2.3zM691.35 184.35h2.3v2.30h-2.3zM694.35 177.35h2.3v6.30h-2.3zM698.35 170.35h2.3v6.30h-2.3zM702.0 169.5h3M705.35 167.35h2.3v1.30h-2.3zM709.0 167.5h3M720.35 168.35h2.3v2.30h-2.3zM724.35 166.35h2.3v1.30h-2.3zM727.0 166.5h3M735.35 161.35h2.3v8.30h-2.3zM739.35 156.35h2.3v4.30h-2.3zM742.0 156.5h3M750.35 152.35h2.3v3.30h-2.3zM757.35 150.35h2.3v2.30h-2.3zM761.35 148.35h2.3v1.30h-2.3zM768.35 145.35h2.3v3.30h-2.3zM772.35 143.35h2.3v1.30h-2.3zM790.0 154.5h3M794.35 148.35h2.3v5.30h-2.3zM798.35 143.35h2.3v4.30h-2.3zM801.35 138.35h2.3v4.30h-2.3zM805.35 133.35h2.3v4.30h-2.3zM809.0 132.5h3M812.0 131.5h3M823.35 131.35h2.3v9.30h-2.3zM831.35 130.35h2.3v5.30h-2.3zM834.35 127.35h2.3v2.30h-2.3zM849.35 150.35h2.3v1.30h-2.3zM853.35 145.35h2.3v4.30h-2.3zM864.35 154.35h2.3v1.30h-2.3zM875.35 148.35h2.3v18.30h-2.3zM879.35 144.35h2.3v3.30h-2.3zM882.35 142.35h2.3v1.30h-2.3zM901.0 173.5h3M912.35 172.35h2.3v18.30h-2.3zM927.35 192.35h2.3v19.30h-2.3zM934.35 193.35h2.3v4.30h-2.3zM941.35 186.35h2.3v7.30h-2.3zM945.35 174.35h2.3v11.30h-2.3zM949.0 173.5h3M952.35 162.35h2.3v10.30h-2.3zM967.35 179.35h2.3v10.30h-2.3zM982.35 215.35h2.3v3.30h-2.3zM989.35 203.35h2.3v16.30h-2.3zM993.35 193.35h2.3v9.30h-2.3zM1000.35 185.35h2.3v16.30h-2.3zM1008.35 182.35h2.3v3.30h-2.3zM1012.35 178.35h2.3v3.30h-2.3zM1026.0 196.5h3M1030.35 192.35h2.3v3.30h-2.3zM1034.35 184.35h2.3v7.30h-2.3zM1041.35 177.35h2.3v7.30h-2.3zM1045.35 173.35h2.3v3.30h-2.3zM1059.35 181.35h2.3v4.30h-2.3zM1067.35 191.35h2.3v3.30h-2.3zM1071.35 186.35h2.3v4.30h-2.3zM1074.35 176.35h2.3v9.30h-2.3zM1078.0 175.5h3M1082.35 173.35h2.3v1.30h-2.3zM1085.0 172.5h3M1089.0 171.5h3M1100.35 169.35h2.3v3.30h-2.3zM1104.35 167.35h2.3v1.30h-2.3zM1107.35 162.35h2.3v4.30h-2.3zM1111.35 160.35h2.3v1.30h-2.3zM1115.35 153.35h2.3v6.30h-2.3zM1122.35 150.35h2.3v3.30h-2.3zM1130.35 145.35h2.3v5.30h-2.3zM1133.35 143.35h2.3v1.30h-2.3zM1137.35 140.35h2.3v2.30h-2.3zM1152.0 153.5h3M1155.35 145.35h2.3v7.30h-2.3zM1174.0 161.5h3M1177.0 160.5h3M1189.35 156.35h2.3v14.30h-2.3zM1192.35 152.35h2.3v3.30h-2.3zM1196.35 144.35h2.3v7.30h-2.3zM1200.35 142.35h2.3v1.30h-2.3zM1203.35 140.35h2.3v1.30h-2.3zM1207.35 138.35h2.3v1.30h-2.3zM1211.35 130.35h2.3v7.30h-2.3zM1214.35 127.35h2.3v2.30h-2.3zM1218.0 127.5h3M1225.35 125.35h2.3v5.30h-2.3zM1229.35 122.35h2.3v2.30h-2.3zM1233.35 119.35h2.3v2.30h-2.3zM1237.35 116.35h2.3v2.30h-2.3zM1240.35 110.35h2.3v5.30h-2.3zM1248.35 106.35h2.3v4.30h-2.3zM1251.35 104.35h2.3v1.30h-2.3zM1255.0 103.5h3M1259.0 103.5h3M1262.35 96.35h2.3v6.30h-2.3zM1266.0 95.5h3M1281.35 104.35h2.3v7.30h-2.3zM1284.0 103.5h3M1288.35 97.35h2.3v5.30h-2.3zM1292.35 93.35h2.3v3.30h-2.3zM1296.35 91.35h2.3v1.30h-2.3zM1303.35 90.35h2.3v2.30h-2.3zM1307.35 85.35h2.3v4.30h-2.3zM1310.35 81.35h2.3v3.30h-2.3zM1314.0 80.5h3M1318.35 76.35h2.3v3.30h-2.3zM1321.35 73.35h2.3v2.30h-2.3z" stroke="#089981" stroke-width="0.7" fill="#fff" fill-opacity="0.8"/>
<path d="M39.5 325.4V327.9M42.5 324.4V330.9M65.5 314.2V317.4M83.5 292.1V308.5M87.5 299.8V332.0M98.5 306.4V315.9M105.5 299.0V309.1M109.5 302.0V332.5M116.5 320.7V327.1M127.5 312.7V318.3M131.5 314.0V318.3M146.5 307.0V314.1M157.5 303.0V307.1M160.5 303.1V312.6M197.5 288.9V292.6M208.5 286.2V288.8M212.5 284.6V295.3M216.5 286.9V309.5M219.5 302.7V308.2M223.5 301.5V319.5M234.5 301.7V310.2M238.5 304.6V324.2M245.5 302.8V318.7M249.5 312.3V328.4M253.5 320.7V349.0M290.5 299.7V303.6M293.5 301.2V310.0M326.5 281.9V294.5M330.5 287.0V298.4M334.5 291.9V300.0M338.5 294.5V308.1M363.5 276.7V279.6M371.5 273.8V289.1M374.5 281.7V289.8M378.5 284.9V292.6M382.5 288.0V296.4M400.5 274.4V283.2M404.5 279.2V285.7M467.5 242.4V257.0M478.5 238.7V242.5M481.5 231.8V291.8M489.5 263.0V322.3M492.5 330.0V367.5M500.5 320.0V343.0M511.5 289.0V298.3M515.5 293.8V298.7M522.5 283.2V295.9M537.5 252.4V279.8M544.5 264.0V281.6M581.5 225.6V237.8M585.5 230.5V245.1M588.5 239.5V246.7M592.5 241.9V249.9M607.5 226.9V234.7M610.5 227.5V251.6M622.5 218.9V223.1M633.5 209.7V215.1M640.5 208.6V213.8M651.5 197.7V203.7M658.5 193.8V211.3M673.5 187.1V203.5M684.5 187.8V191.4M714.5 165.3V172.6M717.5 167.2V172.0M732.5 162.8V173.2M747.5 154.7V157.5M754.5 150.4V153.8M765.5 147.1V150.1M776.5 141.4V151.1M780.5 144.0V151.8M784.5 148.1V153.6M788.5 148.2V157.4M817.5 128.3V138.2M821.5 131.9V144.1M828.5 128.6V138.2M839.5 124.8V136.3M843.5 129.0V139.5M847.5 131.1V157.6M858.5 141.6V154.4M861.5 147.7V159.7M869.5 152.2V160.1M872.5 155.9V170.4M887.5 139.0V148.2M891.5 142.7V157.3M894.5 149.9V166.6M898.5 158.5V176.4M906.5 170.1V185.1M909.5 177.9V193.6M917.5 169.3V177.5M920.5 170.0V198.6M924.5 186.7V217.6M931.5 189.3V200.3M939.5 190.9V194.9M957.5 159.0V168.2M961.5 161.2V181.9M965.5 173.2V194.7M972.5 173.3V200.8M976.5 189.9V214.6M979.5 207.5V223.1M987.5 213.3V223.1M998.5 188.6V206.6M1005.5 182.9V187.1M1016.5 174.5V193.8M1020.5 187.4V200.0M1024.5 195.3V199.5M1038.5 182.4V186.5M1049.5 170.9V178.2M1053.5 175.7V180.5M1057.5 174.8V190.5M1064.5 176.6V198.9M1094.5 169.2V173.2M1097.5 169.2V173.6M1119.5 151.8V155.6M1127.5 148.2V152.0M1142.5 137.4V146.5M1145.5 143.1V148.4M1149.5 143.4V157.9M1160.5 143.5V149.0M1164.5 146.4V149.2M1167.5 142.9V160.8M1171.5 155.5V163.4M1182.5 157.5V168.8M1186.5 162.1V174.5M1223.5 123.1V133.8M1245.5 109.0V112.4M1271.5 91.9V99.3M1274.5 93.1V104.5M1278.5 98.6V115.1M1300.5 90.0V93.7" stroke="#f23645" stroke-width="0.8" fill="none"/>
<path d="M38 326h3v1h-3zM41 327h3v1h-3zM64 315h3v1h-3zM82 295h3v10h-3zM86 305h3v15h-3zM97 309h3v3h-3zM104 303h3v4h-3zM108 307h3v19h-3zM115 322h3v2h-3zM126 315h3v1h-3zM130 316h3v1h-3zM145 309h3v2h-3zM156 304h3v1h-3zM159 305h3v6h-3zM196 290h3v1h-3zM207 287h3v1h-3zM211 287h3v5h-3zM215 292h3v13h-3zM218 305h3v1h-3zM222 306h3v11h-3zM233 304h3v4h-3zM237 308h3v12h-3zM244 306h3v10h-3zM248 316h3v10h-3zM252 326h3v22h-3zM289 302h3v1h-3zM292 303h3v3h-3zM325 285h3v6h-3zM329 291h3v4h-3zM333 295h3v2h-3zM337 297h3v8h-3zM362 278h3v1h-3zM370 277h3v8h-3zM373 285h3v3h-3zM377 288h3v2h-3zM381 290h3v3h-3zM399 278h3v3h-3zM403 281h3v2h-3zM466 246h3v7h-3zM477 241h3v1h-3zM480 242h3v41h-3zM488 281h3v33h-3zM491 314h3v46h-3zM499 332h3v6h-3zM510 292h3v4h-3zM514 296h3v1h-3zM521 287h3v6h-3zM536 258h3v16h-3zM543 268h3v9h-3zM580 228h3v7h-3zM584 235h3v6h-3zM587 241h3v3h-3zM591 244h3v4h-3zM606 228h3v5h-3zM609 233h3v14h-3zM621 220h3v2h-3zM632 211h3v1h-3zM639 210h3v1h-3zM650 200h3v2h-3zM657 198h3v9h-3zM672 191h3v8h-3zM683 189h3v1h-3zM713 167h3v3h-3zM716 170h3v1h-3zM731 166h3v4h-3zM746 156h3v1h-3zM753 152h3v1h-3zM764 148h3v1h-3zM775 143h3v4h-3zM779 147h3v2h-3zM783 149h3v1h-3zM787 150h3v5h-3zM816 131h3v4h-3zM820 135h3v6h-3zM827 131h3v5h-3zM838 127h3v6h-3zM842 133h3v4h-3zM846 137h3v15h-3zM857 145h3v6h-3zM860 151h3v5h-3zM868 154h3v5h-3zM871 159h3v8h-3zM886 142h3v5h-3zM890 147h3v7h-3zM893 154h3v9h-3zM897 163h3v11h-3zM905 173h3v9h-3zM908 182h3v9h-3zM916 172h3v3h-3zM919 175h3v18h-3zM923 193h3v19h-3zM930 192h3v6h-3zM938 193h3v1h-3zM956 162h3v4h-3zM960 166h3v12h-3zM964 178h3v12h-3zM971 179h3v16h-3zM975 195h3v15h-3zM978 210h3v9h-3zM986 215h3v5h-3zM997 193h3v9h-3zM1004 185h3v1h-3zM1015 178h3v12h-3zM1019 190h3v6h-3zM1023 196h3v1h-3zM1037 184h3v1h-3zM1048 173h3v4h-3zM1052 177h3v1h-3zM1056 178h3v8h-3zM1063 181h3v14h-3zM1093 171h3v1h-3zM1096 172h3v1h-3zM1118 153h3v1h-3zM1126 150h3v1h-3zM1141 140h3v5h-3zM1144 145h3v2h-3zM1148 147h3v7h-3zM1159 145h3v2h-3zM1163 147h3v1h-3zM1166 148h3v10h-3zM1170 158h3v3h-3zM1181 160h3v6h-3zM1185 166h3v5h-3zM1222 127h3v4h-3zM1244 110h3v1h-3zM1270 95h3v2h-3zM1273 97h3v5h-3zM1277 102h3v10h-3zM1299 91h3v2h-3z" fill="#f23645"/>
<path d="M12.2 336.7C14.9 335.3 22.4 331.0 28.2 328.2C33.9 325.4 42.2 322.1 46.9 319.8C51.6 317.4 53.2 315.9 56.3 314.2C59.4 312.4 62.6 311.4 65.7 309.1C68.8 306.7 72.6 302.4 75.1 300.1C77.6 297.7 78.5 295.9 80.7 295.0C82.9 294.1 84.5 294.8 88.2 294.4C92.0 294.1 99.2 293.4 103.2 293.1C107.3 292.9 107.9 292.9 112.6 292.9C117.3 293.0 126.1 293.3 131.4 293.5C136.7 293.8 141.1 293.9 144.5 294.4C148.0 295.0 149.2 296.4 152.1 296.9C154.9 297.4 157.1 298.2 161.4 297.4C165.8 296.7 172.4 294.4 178.3 292.6C184.3 290.7 192.1 288.1 197.1 286.6C202.1 285.0 204.3 283.9 208.4 283.2C212.4 282.5 217.1 282.7 221.5 282.2C225.9 281.8 230.6 281.0 234.7 280.4C238.7 279.7 242.9 279.5 245.9 278.5C248.9 277.5 250.3 275.2 252.5 274.4C254.7 273.5 256.7 273.2 259.1 273.4C261.4 273.6 263.8 274.0 266.6 275.7C269.4 277.3 272.8 280.7 276.0 283.2C279.1 285.7 282.5 289.4 285.3 290.7C288.2 291.9 290.2 291.3 292.8 290.7C295.5 290.1 298.0 289.3 301.3 287.3C304.5 285.3 308.8 281.2 312.5 278.8C316.3 276.5 320.3 273.4 323.8 273.2C327.2 273.1 329.7 276.8 333.2 277.9C336.6 279.0 341.0 280.1 344.4 279.8C347.9 279.5 350.4 277.3 353.8 276.0C357.3 274.8 360.1 273.0 365.1 272.3C370.1 271.6 378.2 272.0 383.9 271.7C389.5 271.4 394.5 270.5 398.9 270.4C403.3 270.3 406.4 271.4 410.1 271.0C413.9 270.5 417.7 269.1 421.4 267.6C425.2 266.1 428.9 264.1 432.7 261.9C436.4 259.8 440.5 256.6 443.9 254.4C447.4 252.2 449.9 251.0 453.3 248.8C456.8 246.6 460.8 243.5 464.6 241.3C468.3 239.1 472.4 236.9 475.8 235.7C479.3 234.4 483.0 235.4 485.2 233.8C487.4 232.2 487.7 229.3 489.0 226.3C490.2 223.3 490.9 218.5 492.7 216.0C494.6 213.4 497.7 211.7 500.2 210.9C502.8 210.1 504.6 210.4 507.8 211.3C510.9 212.1 515.3 213.8 519.0 216.0C522.8 218.1 526.5 221.4 530.3 224.4C534.0 227.4 538.0 230.8 541.5 233.8C545.1 236.8 548.7 242.1 551.9 242.2C555.0 242.4 557.0 236.8 560.3 234.7C563.6 232.7 568.1 232.0 571.6 230.0C575.0 228.1 577.4 224.0 581.0 222.9C584.6 221.8 588.9 224.2 593.1 223.6C597.4 222.9 602.2 219.8 606.3 218.9C610.3 217.9 613.8 219.5 617.5 217.9C621.3 216.4 625.1 212.3 628.8 209.5C632.6 206.7 636.3 203.9 640.1 201.0C643.8 198.2 647.6 195.1 651.3 192.6C655.1 190.1 658.8 187.8 662.6 186.0C666.4 184.2 670.7 182.7 673.9 181.7C677.0 180.7 679.2 179.7 681.4 179.8C683.6 179.9 685.1 182.3 687.0 182.3C688.9 182.2 689.8 181.8 692.6 179.5C695.4 177.1 700.1 171.3 703.9 168.2C707.7 165.1 711.4 162.7 715.2 160.7C718.9 158.7 723.3 157.1 726.4 156.0C729.6 154.9 731.1 155.2 733.9 154.1C736.7 153.0 739.9 150.6 743.3 149.4C746.8 148.2 750.5 147.9 754.6 147.0C758.6 146.0 763.7 145.0 767.7 143.8C771.8 142.6 775.2 140.6 779.0 139.7C782.7 138.7 787.1 138.3 790.2 138.2C793.4 138.1 795.3 139.4 797.8 139.1C800.3 138.8 802.1 137.7 805.3 136.3C808.4 134.9 812.8 132.2 816.5 130.6C820.3 129.1 824.0 128.1 827.8 126.9C831.5 125.6 835.3 123.9 839.1 123.1C842.8 122.4 845.9 122.5 850.3 122.2C854.7 121.9 861.6 121.8 865.3 121.3C869.1 120.7 870.8 119.2 872.8 119.0C874.9 118.8 874.9 119.3 877.5 120.0C880.2 120.8 885.0 122.7 888.8 123.4C892.5 124.1 896.6 123.7 900.0 124.4C903.5 125.0 906.6 126.1 909.4 127.5C912.2 129.0 914.6 132.4 916.9 132.8C919.3 133.2 920.7 129.9 923.5 129.8C926.3 129.7 930.2 131.2 933.8 132.2C937.4 133.3 941.6 134.1 945.1 136.0C948.5 137.9 951.7 140.7 954.5 143.5C957.3 146.3 959.8 150.5 962.0 152.9C964.2 155.2 965.4 156.5 967.6 157.6C969.8 158.7 972.6 159.5 975.1 159.5C977.6 159.4 979.5 157.3 982.6 157.2C985.8 157.1 990.1 158.9 993.9 159.1C997.7 159.3 1001.7 158.9 1005.2 158.5C1008.6 158.1 1011.7 156.3 1014.5 156.6C1017.4 157.0 1019.6 158.2 1022.1 160.4C1024.6 162.6 1027.4 168.0 1029.6 169.8C1031.8 171.6 1033.0 171.1 1035.2 171.1C1037.4 171.1 1040.2 170.6 1042.7 169.8C1045.2 168.9 1047.7 166.4 1050.2 166.0C1052.7 165.6 1055.2 166.6 1057.7 167.3C1060.2 168.1 1062.7 169.8 1065.2 170.3C1067.7 170.9 1069.6 171.3 1072.7 170.7C1075.9 170.2 1080.2 167.9 1084.0 167.0C1087.8 166.0 1091.8 165.9 1095.3 165.1C1098.7 164.3 1101.5 163.8 1104.7 162.3C1107.8 160.7 1110.9 158.4 1114.0 155.7C1117.2 153.0 1120.3 149.1 1123.4 146.3C1126.6 143.6 1130.3 140.8 1132.8 139.2C1135.3 137.5 1135.9 136.9 1138.4 136.4C1140.9 135.8 1144.4 136.3 1147.8 136.0C1151.3 135.7 1156.9 134.6 1159.1 134.5C1161.3 134.4 1159.3 134.9 1161.3 135.4C1163.2 135.9 1167.8 136.8 1170.6 137.3C1173.5 137.8 1175.3 138.8 1178.2 138.6C1181.0 138.4 1184.1 137.0 1187.5 136.4C1191.0 135.7 1195.4 135.3 1198.8 134.5C1202.2 133.7 1205.1 133.4 1208.2 131.7C1211.3 129.9 1214.5 126.5 1217.6 124.2C1220.7 121.8 1223.8 120.2 1227.0 117.6C1230.1 114.9 1233.2 111.3 1236.4 108.2C1239.5 105.1 1242.9 101.3 1245.7 98.8C1248.6 96.3 1250.4 94.7 1253.2 93.2C1256.1 91.6 1259.5 90.4 1262.6 89.4C1265.8 88.5 1268.9 87.7 1272.0 87.5C1275.1 87.4 1278.0 88.6 1281.4 88.5C1284.8 88.3 1289.2 87.1 1292.7 86.6C1296.1 86.1 1299.2 86.4 1302.1 85.7C1304.9 84.9 1307.4 83.0 1309.6 81.9C1311.8 80.8 1313.0 80.5 1315.2 79.1C1317.4 77.7 1321.5 74.4 1322.7 73.5" fill="none" stroke="#f23645" stroke-width="1.3" stroke-linejoin="round"/>
<path d="M12.2 353.2C13.9 353.0 18.3 352.4 22.5 352.3C26.8 352.2 33.5 352.9 37.5 352.6C41.6 352.4 43.2 351.1 46.9 350.8C50.7 350.4 56.6 350.9 60.1 350.4C63.5 349.8 64.5 348.0 67.6 347.4C70.7 346.8 75.1 347.6 78.8 346.6C82.6 345.6 86.4 343.3 90.1 341.4C93.9 339.4 98.2 336.3 101.4 334.8C104.5 333.3 105.8 333.2 108.9 332.4C112.0 331.5 115.8 330.4 120.1 329.7C124.5 329.0 130.2 328.6 135.2 328.2C140.2 327.9 146.1 328.0 150.2 327.5C154.2 326.9 154.9 325.2 159.6 325.0C164.3 324.9 173.0 327.4 178.3 326.7C183.7 326.1 186.8 323.0 191.5 321.1C196.2 319.2 202.1 316.7 206.5 315.1C210.9 313.5 214.6 311.3 217.8 311.3C220.9 311.3 222.5 314.5 225.3 315.1C228.1 315.7 231.8 314.1 234.7 314.7C237.5 315.3 239.7 316.9 242.2 318.8C244.7 320.8 247.5 323.2 249.7 326.4C251.9 329.5 253.6 334.5 255.3 337.6C257.0 340.7 258.4 343.6 260.0 345.1C261.6 346.7 262.7 346.6 264.7 347.0C266.7 347.4 269.7 347.8 272.2 347.4C274.7 346.9 277.2 345.1 279.7 344.2C282.2 343.3 285.5 342.4 287.2 341.9C288.9 341.4 287.0 341.0 290.0 341.2C293.0 341.3 300.3 342.0 305.0 342.7C309.7 343.3 315.0 344.8 318.2 344.9C321.3 345.1 321.9 345.9 323.8 343.6C325.7 341.4 327.2 335.3 329.4 331.4C331.6 327.5 334.1 323.3 336.9 320.1C339.7 317.0 342.9 314.2 346.3 312.3C349.8 310.3 353.8 309.7 357.6 308.3C361.3 307.0 365.1 305.3 368.8 304.2C372.6 303.1 375.7 302.1 380.1 301.7C384.5 301.4 390.7 302.7 395.1 302.3C399.5 301.9 403.6 300.9 406.4 299.5C409.2 298.1 410.1 295.1 412.0 293.9C413.9 292.7 414.8 292.4 417.7 292.4C420.5 292.4 425.2 293.1 428.9 293.9C432.7 294.6 437.0 296.6 440.2 297.1C443.3 297.5 444.6 297.5 447.7 296.7C450.8 295.8 455.2 293.5 459.0 292.0C462.7 290.4 467.1 288.6 470.2 287.3C473.3 285.9 475.5 284.7 477.7 283.9C479.9 283.1 481.8 281.6 483.4 282.6C484.9 283.6 485.9 286.4 487.1 290.1C488.4 293.9 489.6 299.8 490.9 305.1C492.1 310.4 493.4 316.7 494.6 322.0C495.9 327.3 496.5 332.8 498.4 337.0C500.2 341.3 503.1 344.5 505.9 347.4C508.7 350.2 512.1 352.5 515.3 353.9C518.4 355.4 520.9 356.2 524.7 356.2C528.4 356.2 533.7 355.4 537.8 353.9C541.9 352.5 545.3 348.6 549.1 347.4C552.8 346.1 557.5 348.5 560.3 346.4C563.1 344.4 564.1 340.8 566.0 335.2C567.8 329.5 569.4 317.6 571.6 312.6C573.8 307.6 577.7 306.6 579.1 305.1C580.5 303.7 578.2 305.7 580.0 303.9C581.8 302.2 586.5 298.1 589.9 294.7C593.4 291.3 597.3 287.3 600.6 283.6C604.0 280.0 607.2 276.2 610.0 272.9C612.9 269.7 614.7 266.4 617.5 263.9C620.4 261.5 623.2 259.7 626.9 258.3C630.7 256.9 635.4 256.0 640.1 255.5C644.8 255.0 651.0 256.6 655.1 255.5C659.2 254.4 661.3 251.3 664.5 248.9C667.6 246.6 671.0 244.2 673.9 241.4C676.7 238.6 679.2 234.8 681.4 232.0C683.6 229.2 684.8 226.5 687.0 224.5C689.2 222.5 691.7 220.8 694.5 219.8C697.3 218.9 700.5 219.7 703.9 218.9C707.3 218.1 711.4 216.8 715.2 215.1C718.9 213.4 723.6 210.6 726.4 208.6C729.2 206.5 729.6 204.4 732.1 202.9C734.6 201.5 738.6 201.5 741.4 199.7C744.3 198.0 746.4 195.2 749.0 192.6C751.5 190.0 753.6 186.7 756.5 184.2C759.3 181.6 762.1 179.3 765.8 177.6C769.6 175.9 774.9 175.1 779.0 173.8C783.1 172.6 786.5 171.6 790.2 170.1C794.0 168.5 797.8 166.0 801.5 164.4C805.3 162.9 809.3 161.7 812.8 160.7C816.2 159.7 819.0 158.9 822.2 158.4C825.3 158.0 828.4 158.3 831.5 157.9C834.7 157.5 837.8 156.0 840.9 156.0C844.1 156.0 846.9 157.5 850.3 157.9C853.8 158.3 858.5 157.7 861.6 158.4C864.7 159.2 866.9 161.2 869.1 162.6C871.3 163.9 873.3 165.8 874.7 166.3C876.1 166.8 875.5 165.8 877.5 165.7C879.5 165.5 884.1 165.0 886.9 165.7C889.7 166.3 891.9 167.7 894.4 169.8C896.9 171.9 899.4 175.6 901.9 178.2C904.4 180.9 906.9 184.2 909.4 185.7C911.9 187.3 914.7 185.9 916.9 187.6C919.1 189.3 920.7 192.8 922.6 196.1C924.4 199.3 926.0 204.2 928.2 207.3C930.4 210.5 933.2 213.1 935.7 214.8C938.2 216.6 940.7 217.4 943.2 217.7C945.7 217.9 948.2 217.2 950.7 216.1C953.2 215.1 955.7 212.5 958.2 211.1C960.7 209.7 963.5 208.3 965.7 207.9C967.9 207.5 969.5 207.5 971.4 208.6C973.2 209.8 975.1 212.7 977.0 214.8C978.9 217.0 980.9 219.4 982.6 221.4C984.4 223.4 984.8 226.3 987.3 227.0C989.8 227.8 993.7 226.6 997.7 226.1C1001.6 225.6 1006.4 224.4 1010.8 224.2C1015.2 224.1 1020.5 225.6 1023.9 225.2C1027.4 224.7 1027.7 221.9 1031.4 221.4C1035.2 220.9 1042.7 223.1 1046.5 222.0C1050.2 220.9 1051.5 217.7 1054.0 214.8C1056.5 211.9 1059.0 206.7 1061.5 204.5C1064.0 202.3 1066.5 202.5 1069.0 201.7C1071.5 200.9 1073.1 199.9 1076.5 199.8C1079.9 199.7 1085.9 201.9 1089.6 201.1C1093.4 200.3 1096.2 196.5 1099.0 195.1C1101.8 193.7 1104.0 193.2 1106.5 192.9C1109.0 192.6 1111.2 192.6 1114.0 193.2C1116.9 193.9 1120.0 196.2 1123.4 196.6C1126.9 197.1 1131.6 197.3 1134.7 196.1C1137.8 194.9 1139.7 191.7 1142.2 189.5C1144.7 187.3 1146.9 185.0 1149.7 182.9C1152.5 180.9 1155.9 179.6 1159.1 177.3C1162.3 175.0 1165.6 171.2 1168.8 169.2C1171.9 167.2 1175.0 165.4 1178.2 165.4C1181.3 165.4 1184.1 168.6 1187.5 169.2C1191.0 169.8 1195.4 168.7 1198.8 169.2C1202.2 169.7 1205.1 171.1 1208.2 172.0C1211.3 172.9 1214.1 173.8 1217.6 174.5C1221.0 175.1 1225.4 175.2 1228.8 175.8C1232.3 176.3 1235.4 177.7 1238.2 177.7C1241.0 177.6 1243.2 176.7 1245.7 175.4C1248.2 174.1 1251.1 172.6 1253.2 170.1C1255.4 167.7 1256.7 164.0 1258.9 160.8C1261.1 157.5 1263.6 153.7 1266.4 150.4C1269.2 147.1 1272.6 144.2 1275.8 141.0C1278.9 137.9 1282.0 134.5 1285.2 131.7C1288.3 128.8 1291.7 126.3 1294.5 124.2C1297.4 122.0 1299.6 120.0 1302.1 118.5C1304.6 117.0 1307.1 116.0 1309.6 115.3C1312.1 114.6 1314.9 114.5 1317.1 114.4C1319.3 114.3 1321.8 114.7 1322.7 114.8" fill="none" stroke="#089981" stroke-width="1.3" stroke-linejoin="round"/>
<path d="M12.2 344.7C14.9 344.0 22.4 342.0 28.2 340.4C33.9 338.9 41.3 337.1 46.9 335.4C52.6 333.6 57.3 332.2 61.9 330.1C66.6 328.0 71.6 324.5 75.1 322.6C78.5 320.7 79.5 319.7 82.6 318.5C85.7 317.2 90.4 316.1 93.9 315.1C97.3 314.1 100.1 312.9 103.2 312.3C106.4 311.6 107.9 311.6 112.6 311.3C117.3 311.1 125.1 310.9 131.4 311.0C137.7 311.0 144.9 311.6 150.2 311.7C155.5 311.8 158.6 312.1 163.3 311.7C168.0 311.3 172.7 310.9 178.3 309.5C184.0 308.0 192.1 304.6 197.1 302.9C202.1 301.2 205.2 300.1 208.4 299.1C211.5 298.1 213.1 297.1 215.9 296.9C218.7 296.7 221.8 297.5 225.3 297.8C228.7 298.1 233.1 298.1 236.5 298.6C240.0 299.0 242.8 299.3 245.9 300.4C249.0 301.6 251.9 304.0 255.3 305.7C258.7 307.4 262.8 309.0 266.6 310.4C270.3 311.8 274.4 313.3 277.8 314.2C281.3 315.0 285.2 315.2 287.2 315.5C289.2 315.8 287.0 316.5 290.0 316.0C293.0 315.5 300.0 314.1 305.0 312.6C310.0 311.1 315.0 309.3 320.0 307.0C325.0 304.7 330.0 301.5 335.1 299.1C340.1 296.8 345.1 294.6 350.1 292.9C355.1 291.3 361.3 290.1 365.1 289.2C368.8 288.2 368.8 287.8 372.6 287.3C376.4 286.8 382.6 286.4 387.6 286.0C392.6 285.5 397.0 285.5 402.6 284.5C408.3 283.4 415.1 281.2 421.4 279.8C427.7 278.4 434.5 277.7 440.2 276.0C445.8 274.3 450.5 271.6 455.2 269.5C459.9 267.3 464.6 264.6 468.3 262.9C472.1 261.2 474.9 259.8 477.7 259.1C480.5 258.4 482.1 257.5 485.2 258.8C488.4 260.0 492.1 263.8 496.5 266.6C500.9 269.5 506.5 273.4 511.5 276.0C516.5 278.7 521.5 280.6 526.5 282.6C531.5 284.6 537.3 286.5 541.5 287.9C545.8 289.2 548.7 290.7 551.9 290.5C555.0 290.3 557.0 289.8 560.3 286.7C563.6 283.7 568.1 276.4 571.6 272.3C575.0 268.1 577.7 264.7 581.0 261.9C584.3 259.2 587.7 257.7 591.3 255.5C594.9 253.3 598.1 251.3 602.5 248.9C606.9 246.6 612.5 244.2 617.5 241.4C622.6 238.6 627.6 235.0 632.6 232.0C637.6 229.0 642.6 226.4 647.6 223.6C652.6 220.8 657.6 217.8 662.6 215.1C667.6 212.5 672.6 210.4 677.6 207.6C682.6 204.8 687.6 201.4 692.6 198.2C697.6 195.1 702.6 191.7 707.7 188.8C712.7 186.0 717.7 183.6 722.7 181.0C727.7 178.3 732.7 175.8 737.7 172.9C742.7 170.0 747.7 166.1 752.7 163.5C757.7 160.9 762.7 159.0 767.7 157.3C772.7 155.6 777.7 154.5 782.7 153.2C787.7 151.9 792.8 150.7 797.8 149.4C802.8 148.2 807.8 146.9 812.8 145.7C817.8 144.5 822.8 143.2 827.8 142.3C832.8 141.3 838.4 140.6 842.8 140.0C847.2 139.5 850.3 139.2 854.1 139.1C857.8 139.0 862.7 139.5 865.3 139.7C868.0 139.9 867.3 139.8 870.0 140.3C872.7 140.8 877.5 141.8 881.3 142.6C885.0 143.3 888.8 143.4 892.5 144.8C896.3 146.2 900.0 149.0 903.8 151.0C907.5 153.0 911.3 154.3 915.1 156.6C918.8 159.0 922.6 162.5 926.3 165.1C930.1 167.7 933.8 170.5 937.6 172.0C941.3 173.6 945.1 173.3 948.8 174.5C952.6 175.7 956.4 177.6 960.1 179.2C963.9 180.7 967.6 182.3 971.4 183.9C975.1 185.4 979.2 187.2 982.6 188.6C986.1 189.9 988.9 191.3 992.0 191.7C995.1 192.2 998.0 191.8 1001.4 191.4C1004.8 190.9 1009.5 189.3 1012.7 189.1C1015.8 189.0 1017.4 189.5 1020.2 190.4C1023.0 191.4 1026.4 194.1 1029.6 194.7C1032.7 195.4 1035.8 195.0 1039.0 194.6C1042.1 194.2 1045.2 193.5 1048.3 192.3C1051.5 191.2 1054.3 188.8 1057.7 187.6C1061.2 186.5 1065.2 186.0 1069.0 185.4C1072.7 184.7 1076.5 184.5 1080.2 183.9C1084.0 183.2 1087.8 182.5 1091.5 181.6C1095.3 180.7 1099.0 179.4 1102.8 178.2C1106.5 177.0 1110.3 175.8 1114.0 174.5C1117.8 173.2 1121.5 171.9 1125.3 170.3C1129.1 168.8 1132.8 167.0 1136.6 165.1C1140.3 163.2 1144.1 160.8 1147.8 159.1C1151.6 157.4 1156.9 155.6 1159.1 154.8C1161.3 153.9 1159.0 154.6 1161.3 154.2C1163.5 153.8 1168.8 152.6 1172.5 152.3C1176.3 152.0 1180.0 152.3 1183.8 152.3C1187.5 152.3 1191.3 152.5 1195.1 152.3C1198.8 152.1 1202.6 151.6 1206.3 151.0C1210.1 150.4 1213.8 149.6 1217.6 148.6C1221.3 147.5 1225.1 146.4 1228.8 144.8C1232.6 143.2 1236.4 141.5 1240.1 139.2C1243.9 136.8 1247.6 133.5 1251.4 130.7C1255.1 127.9 1258.9 124.9 1262.6 122.3C1266.4 119.6 1270.1 117.0 1273.9 114.8C1277.7 112.6 1281.4 110.9 1285.2 109.1C1288.9 107.4 1292.7 106.0 1296.4 104.4C1300.2 102.9 1304.6 101.0 1307.7 99.7C1310.8 98.5 1312.7 98.0 1315.2 96.9C1317.7 95.8 1321.5 93.8 1322.7 93.2" fill="none" stroke="#2962ff" stroke-width="1.3" stroke-linejoin="round"/>
</g>
<g clip-path="url(#c2)">
<path d="M 74.6 425.8 C 73.8 426.8 70.9 429.1 69.7 431.4 C 68.6 433.7 67.9 436.9 67.7 439.7 C 67.4 442.4 67.8 445.4 68.4 448.0 C 68.9 450.5 69.7 453.2 71.1 454.9 C 72.5 456.5 74.9 457.6 76.7 457.8 C 78.4 458.0 80.3 457.7 81.5 456.3 C 82.6 454.9 83.3 451.9 83.6 449.3 C 83.8 446.8 83.4 443.8 82.9 441.0 C 82.4 438.3 81.4 435.1 80.5 432.7 C 79.5 430.4 77.9 427.8 77.3 426.9" fill="none" stroke="#2962ff" stroke-width="4.7" stroke-linecap="round" stroke-linejoin="round"/>
<path d="M 71.5 422.2 C 72.8 422.7 78.4 424.8 79.8 425.3" fill="none" stroke="#2962ff" stroke-width="4.7" stroke-linecap="round" stroke-linejoin="round"/>
<path d="M 459.2 441.1 C 460.4 442.3 464.5 446.1 466.5 448.7 C 468.5 451.2 470.2 454.0 471.0 456.3 C 471.8 458.6 472.0 460.7 471.3 462.5 C 470.7 464.3 469.1 466.2 467.2 467.3 C 465.2 468.5 462.0 469.3 459.6 469.4 C 457.2 469.5 454.5 469.1 452.7 468.0 C 450.8 467.0 449.1 464.9 448.5 463.2 C 447.9 461.5 448.1 459.3 448.9 457.7 C 449.7 456.0 451.3 454.4 453.4 453.5 C 455.4 452.6 458.7 452.4 461.0 452.1 C 463.3 451.9 466.1 452.1 467.2 452.1" fill="none" stroke="#2962ff" stroke-width="4.7" stroke-linecap="round" stroke-linejoin="round"/>
<path d="M 698.7 459.7 C 697.7 460.5 694.5 462.4 692.8 464.2 C 691.2 466.0 689.3 468.2 688.7 470.4 C 688.0 472.6 688.1 475.3 689.0 477.3 C 689.9 479.4 692.0 481.7 694.2 482.9 C 696.5 484.0 699.9 484.5 702.5 484.3 C 705.2 484.0 708.4 483.0 710.1 481.5 C 711.8 480.0 712.8 477.5 712.9 475.3 C 713.0 473.1 712.0 470.3 710.8 468.4 C 709.6 466.4 707.7 464.8 706.0 463.5 C 704.2 462.2 701.4 461.2 700.4 460.7" fill="none" stroke="#2962ff" stroke-width="4.7" stroke-linecap="round" stroke-linejoin="round"/>
<path d="M 794.7 454.5 C 796.6 455.1 802.5 456.6 806.1 458.0 C 809.8 459.4 813.6 461.0 816.5 462.8 C 819.4 464.7 821.8 466.9 823.4 469.0 C 825.0 471.2 826.3 473.9 826.2 476.0 C 826.1 478.0 824.8 480.2 822.7 481.5 C 820.6 482.8 816.8 483.3 813.7 483.6 C 810.6 483.8 806.9 483.6 804.0 482.9 C 801.2 482.2 798.3 481.0 796.4 479.4 C 794.6 477.8 793.1 475.0 793.0 473.2 C 792.9 471.4 793.9 469.6 795.7 468.4 C 797.6 467.1 801.0 466.3 804.0 465.6 C 807.0 464.9 812.1 464.4 813.7 464.2" fill="none" stroke="#2962ff" stroke-width="4.7" stroke-linecap="round" stroke-linejoin="round"/>
<path d="M 1318.5 448.3 C 1319.9 448.7 1324.0 450.2 1326.5 451.0 C 1329.0 451.8 1331.3 451.4 1333.4 453.1 C 1335.5 454.8 1338.6 458.6 1338.9 461.0 C 1339.3 463.5 1338.0 466.2 1335.5 468.0 C 1332.9 469.7 1327.5 471.5 1323.7 471.8 C 1319.9 472.1 1315.9 471.1 1312.7 469.7 C 1309.4 468.2 1305.4 465.1 1304.0 463.1 C 1302.6 461.1 1302.9 459.0 1304.4 457.6 C 1305.8 456.1 1309.4 455.1 1312.7 454.5 C 1315.9 453.9 1320.4 454.2 1323.7 454.0 C 1327.1 453.8 1331.2 453.5 1332.7 453.4" fill="none" stroke="#2962ff" stroke-width="4.7" stroke-linecap="round" stroke-linejoin="round"/>
<linearGradient id="g2" x1="0" y1="432" x2="0" y2="477.5" gradientUnits="userSpaceOnUse"><stop offset="0" stop-color="#4caf50" stop-opacity="0.6"/><stop offset="1" stop-color="#4caf50" stop-opacity="0"/></linearGradient>
<polygon points="15.8,477.5 16.0,477.3 19.7,470.3 23.5,469.2 27.2,464.1 31.0,462.8 34.7,461.3 38.5,465.1 42.2,468.4 46.0,462.2 49.7,454.2 53.5,451.5 57.3,447.8 61.0,446.3 64.8,454.7 68.5,444.4 72.3,439.7 76.0,436.9 78.8,433.1 80.7,448.2 82.5,477.5" fill="url(#g2)"/>
<polygon points="439.9,477.5 441.1,476.0 444.3,469.4 448.1,467.2 451.8,469.0 455.6,464.7 459.5,457.2 463.1,468.5 464.3,477.5" fill="url(#g2)"/>
<polygon points="470.5,477.5 474.0,472.2 475.4,477.5" fill="url(#g2)"/>
<polygon points="695.8,477.5 696.0,476.9 699.2,473.2 703.0,474.5 706.1,474.1 709.5,470.4 712.1,477.5" fill="url(#g2)"/>
<polygon points="726.4,477.5 728.7,476.4 728.9,477.5" fill="url(#g2)"/>
<polygon points="738.4,477.5 739.6,475.4 743.3,474.1 744.7,477.5" fill="url(#g2)"/>
<polygon points="749.4,477.5 750.3,475.4 753.2,477.5" fill="url(#g2)"/>
<polygon points="755.6,477.5 758.3,475.1 761.7,472.2 764.1,477.5" fill="url(#g2)"/>
<polygon points="765.8,477.5 768.7,472.2 773.4,469.4 775.0,477.5" fill="url(#g2)"/>
<polygon points="802.7,477.5 805.8,472.2 809.4,475.1 812.8,473.7 813.5,477.5" fill="url(#g2)"/>
<polygon points="1136.9,477.5 1138.4,476.0 1138.7,477.5" fill="url(#g2)"/>
<polygon points="1232.2,477.5 1232.6,476.9 1237.3,470.4 1241.4,467.0 1244.8,470.4 1248.6,465.7 1252.3,462.3 1256.1,464.7 1258.9,466.0 1262.6,458.7 1266.4,457.6 1270.1,466.0 1273.1,477.5" fill="url(#g2)"/>
<polygon points="1304.2,477.5 1307.7,471.7 1311.4,469.4 1315.2,470.0 1319.5,462.9 1322.7,460.0 1322.7,477.5" fill="url(#g2)"/>
<path d="M12 477.5H1502M12 567.5H1502" stroke="#787b86" stroke-opacity="0.85" stroke-width="1" stroke-dasharray="4 3.32" fill="none"/>
<path d="M12 522.5H1502" stroke="#787b86" stroke-opacity="0.45" stroke-width="1" stroke-dasharray="4 3.32" fill="none"/>
<path d="M12.2 485.3C13.0 485.3 14.5 485.9 16.9 485.3C19.2 484.8 22.5 483.0 26.3 481.9C30.0 480.9 35.7 480.7 39.4 479.1C43.2 477.6 45.4 475.1 48.8 472.6C52.2 470.1 56.3 466.8 60.1 464.1C63.8 461.5 68.0 458.6 71.3 456.6C74.6 454.6 77.0 451.8 79.8 451.9C82.6 452.1 85.3 455.4 88.2 457.5C91.2 459.7 94.8 462.6 97.6 465.1C100.4 467.6 102.6 469.3 105.1 472.6C107.6 475.8 109.8 480.2 112.6 484.8C115.4 489.3 119.0 495.1 122.0 499.8C125.0 504.5 128.3 510.3 130.5 512.9C132.7 515.6 133.1 515.4 135.2 515.7C137.2 516.1 140.2 514.8 142.7 514.8C145.2 514.8 147.4 515.7 150.2 515.7C153.0 515.7 156.4 515.7 159.6 514.8C162.7 513.9 165.5 511.8 169.0 510.1C172.4 508.4 175.8 506.6 180.2 504.5C184.6 502.3 190.9 499.2 195.2 497.3C199.6 495.5 203.7 494.4 206.5 493.6C209.3 492.7 210.2 492.0 212.1 492.3C214.0 492.5 215.6 493.5 217.8 495.1C219.9 496.7 222.5 499.5 225.3 501.7C228.1 503.8 231.5 505.6 234.7 508.2C237.8 510.9 241.2 514.5 244.0 517.6C246.9 520.7 249.2 524.0 251.5 527.0C253.9 530.0 256.2 533.4 258.1 535.4C260.0 537.5 260.8 539.0 262.8 539.6C264.8 540.2 267.8 539.9 270.3 539.2C272.8 538.5 275.3 536.5 277.8 535.4C280.3 534.4 282.8 533.9 285.3 532.6C287.8 531.4 290.5 529.2 292.8 527.9C295.2 526.6 296.7 527.0 299.4 524.8C302.0 522.6 305.6 517.3 308.8 514.5C311.9 511.7 315.3 509.7 318.2 507.9C321.0 506.1 323.5 504.6 325.7 503.8C327.9 502.9 328.8 502.6 331.3 502.8C333.8 503.1 337.6 505.3 340.7 505.5C343.8 505.6 346.9 504.3 350.1 503.8C353.2 503.2 356.3 502.4 359.5 502.3C362.6 502.1 366.3 502.3 368.8 502.8C371.3 503.4 372.0 504.6 374.5 505.5C377.0 506.4 381.0 508.2 383.9 508.3C386.7 508.3 388.9 506.0 391.4 505.7C393.9 505.3 396.1 505.6 398.9 506.0C401.7 506.5 405.1 507.8 408.3 508.5C411.4 509.1 414.8 510.2 417.7 509.8C420.5 509.4 422.3 507.9 425.2 506.0C428.0 504.2 431.4 500.7 434.5 498.5C437.7 496.3 440.5 495.2 443.9 492.9C447.4 490.5 451.8 486.9 455.2 484.4C458.6 481.9 461.6 479.4 464.6 477.9C467.6 476.3 470.8 475.5 473.0 475.1C475.2 474.6 475.7 473.6 477.7 475.1C479.8 476.5 482.7 479.7 485.2 483.5C487.7 487.3 490.2 493.2 492.7 497.6C495.2 502.0 497.4 505.7 500.2 509.8C503.1 513.8 506.8 518.4 509.6 522.0C512.5 525.6 514.6 528.7 517.1 531.4C519.6 534.0 522.7 536.4 524.7 537.9C526.6 539.5 526.9 541.1 528.8 540.8C530.7 540.4 533.5 538.1 535.9 536.1C538.4 534.0 540.6 531.4 543.4 528.6C546.2 525.7 549.7 521.7 552.8 519.2C555.9 516.7 559.1 515.6 562.2 513.5C565.3 511.5 568.8 508.8 571.6 507.0C574.4 505.1 577.7 503.1 579.1 502.3C580.5 501.5 578.0 502.5 580.0 502.3C582.0 502.1 587.2 501.7 591.3 501.0C595.3 500.2 600.0 498.0 604.4 497.6C608.8 497.2 613.2 498.3 617.5 498.5C621.9 498.8 626.9 499.5 630.7 499.1C634.4 498.7 637.3 497.1 640.1 496.1C642.9 495.0 644.5 493.7 647.6 492.9C650.7 492.0 655.7 491.6 658.8 491.0C662.0 490.4 663.2 489.3 666.4 489.1C669.5 489.0 673.9 490.0 677.6 490.1C681.4 490.2 685.1 490.0 688.9 489.7C692.6 489.4 696.7 488.9 700.1 488.2C703.6 487.5 706.4 486.1 709.5 485.4C712.7 484.7 715.5 484.8 718.9 484.1C722.4 483.3 726.4 481.6 730.2 480.7C733.9 479.8 737.7 479.1 741.4 478.8C745.2 478.6 749.0 479.1 752.7 479.2C756.5 479.2 760.5 479.4 764.0 479.2C767.4 479.0 770.2 477.8 773.4 477.9C776.5 478.0 779.6 478.8 782.7 479.7C785.9 480.7 789.0 482.6 792.1 483.5C795.3 484.4 798.1 484.8 801.5 485.0C805.0 485.2 809.0 484.1 812.8 484.8C816.5 485.5 820.9 488.2 824.0 489.1C827.2 490.1 828.4 490.4 831.5 490.4C834.7 490.5 839.7 488.7 842.8 489.7C845.9 490.7 847.2 493.5 850.3 496.6C853.4 499.8 858.1 505.4 861.6 508.8C865.0 512.3 868.3 515.2 871.0 517.3C873.6 519.4 874.9 520.2 877.5 521.6C880.2 523.0 884.1 524.3 886.9 525.7C889.7 527.2 891.9 529.1 894.4 530.4C896.9 531.7 899.4 532.4 901.9 533.6C904.4 534.8 906.6 536.7 909.4 537.6C912.2 538.4 915.7 538.0 918.8 538.9C921.9 539.7 925.4 541.2 928.2 542.6C931.0 544.0 933.5 546.3 935.7 547.3C937.9 548.3 939.5 548.7 941.3 548.6C943.2 548.5 944.8 547.9 947.0 546.8C949.2 545.6 952.0 543.3 954.5 541.7C957.0 540.1 959.5 538.0 962.0 537.0C964.5 536.0 967.3 536.3 969.5 535.7C971.7 535.1 972.3 533.4 975.1 533.2C977.9 533.1 982.6 534.6 986.4 534.7C990.1 534.9 993.9 534.1 997.7 534.2C1001.4 534.2 1005.8 535.3 1008.9 535.1C1012.0 535.0 1013.9 533.6 1016.4 533.2C1018.9 532.9 1021.4 533.5 1023.9 532.9C1026.4 532.2 1028.9 530.8 1031.4 529.5C1033.9 528.1 1036.4 526.1 1039.0 524.8C1041.5 523.5 1044.0 522.5 1046.5 521.6C1049.0 520.7 1050.8 519.3 1054.0 519.2C1057.1 519.0 1062.1 520.6 1065.2 520.7C1068.4 520.8 1070.2 520.4 1072.7 519.7C1075.2 519.1 1077.4 517.6 1080.2 516.7C1083.1 515.9 1086.5 514.9 1089.6 514.5C1092.8 514.0 1096.2 514.5 1099.0 514.1C1101.8 513.7 1104.0 513.4 1106.5 512.2C1109.0 511.0 1111.5 508.8 1114.0 507.0C1116.5 505.1 1119.0 502.7 1121.5 501.0C1124.1 499.2 1126.6 497.9 1129.1 496.6C1131.6 495.4 1134.1 494.2 1136.6 493.3C1139.1 492.3 1140.9 491.4 1144.1 491.0C1147.2 490.6 1152.2 490.4 1155.3 490.6C1158.5 490.9 1161.2 492.0 1162.8 492.5C1164.5 493.0 1163.1 492.4 1165.0 493.8C1166.9 495.2 1171.6 498.8 1174.4 501.0C1177.2 503.1 1179.7 504.9 1181.9 507.0C1184.1 509.0 1185.4 511.6 1187.5 513.2C1189.7 514.7 1192.6 516.1 1195.1 516.4C1197.6 516.6 1200.4 514.8 1202.6 514.5C1204.8 514.2 1206.0 515.0 1208.2 514.5C1210.4 513.9 1213.2 512.7 1215.7 511.1C1218.2 509.5 1220.7 506.9 1223.2 505.1C1225.7 503.3 1228.2 503.0 1230.7 500.4C1233.2 497.8 1235.4 492.8 1238.2 489.7C1241.0 486.6 1244.5 484.1 1247.6 481.6C1250.7 479.2 1253.9 476.8 1257.0 475.1C1260.1 473.3 1263.6 471.8 1266.4 470.9C1269.2 470.1 1271.4 469.6 1273.9 470.0C1276.4 470.4 1278.6 472.2 1281.4 473.2C1284.2 474.2 1287.7 475.1 1290.8 476.0C1293.9 476.9 1297.0 477.7 1300.2 478.4C1303.3 479.2 1306.4 479.8 1309.6 480.3C1312.7 480.8 1316.8 481.2 1319.0 481.2C1321.1 481.3 1322.1 480.8 1322.7 480.7" fill="none" stroke="#ffeb3b" stroke-width="1.3" stroke-linejoin="round"/>
<polyline points="12.2,483.8 16.0,477.3 19.7,470.3 23.5,469.2 27.2,464.1 31.0,462.8 34.7,461.3 38.5,465.1 42.2,468.4 46.0,462.2 49.7,454.2 53.5,451.5 57.3,447.8 61.0,446.3 64.8,454.7 68.5,444.4 72.3,439.7 76.0,436.9 78.8,433.1 80.7,448.2 83.5,495.1 86.0,523.2 88.2,512.0 91.0,502.2 94.4,500.3 98.0,512.4 101.4,497.9 104.7,504.5 108.9,532.6 112.3,524.2 116.0,529.8 120.1,522.3 123.9,519.1 127.7,518.6 130.5,520.4 134.8,509.2 138.5,512.4 142.3,511.0 146.0,508.2 149.8,500.7 153.0,500.3 156.7,506.4 160.5,516.1 164.3,506.4 167.6,499.8 171.4,498.8 174.6,496.0 178.3,491.7 182.1,494.2 185.8,491.0 189.6,486.1 193.7,481.0 197.1,491.7 200.9,485.7 204.2,481.0 207.4,484.8 211.8,497.0 215.3,531.1 218.7,531.7 222.5,552.3 226.8,536.4 230.9,523.6 234.7,532.6 238.4,548.0 242.2,524.2 245.5,541.1 248.7,545.8 252.5,563.6 256.2,551.4 260.0,543.0 263.8,532.6 266.9,525.1 271.3,525.1 275.0,519.5 278.4,518.6 282.1,510.1 285.9,507.3 289.7,506.0 293.4,516.7 296.6,505.4 297.1,505.1 300.3,508.8 304.1,504.2 307.8,496.6 311.6,494.4 314.8,495.3 319.1,490.4 323.4,489.5 326.6,505.1 330.4,509.8 334.1,518.2 337.5,531.7 341.1,510.7 344.8,507.9 348.2,498.5 351.6,500.4 355.3,492.9 359.1,490.1 363.2,498.5 367.3,491.9 370.7,511.7 374.5,515.4 378.2,521.0 381.6,528.2 385.4,512.6 389.1,504.2 392.3,501.0 396.1,504.2 399.8,511.1 403.2,513.5 407.3,510.7 411.6,507.0 415.4,499.5 419.2,491.9 422.9,487.3 426.1,484.1 429.9,486.9 433.6,482.2 437.4,480.7 441.1,476.0 444.3,469.4 448.1,467.2 451.8,469.0 455.6,464.7 459.5,457.2 463.1,468.5 466.5,493.8 470.2,477.9 474.0,472.2 477.3,484.4 481.1,547.3 484.9,543.6 488.6,565.2 491.8,585.4 495.6,558.6 499.9,561.4 504.0,533.2 507.4,527.6 511.1,530.4 514.9,531.0 518.1,522.4 521.8,527.6 525.6,520.1 529.3,512.6 532.5,502.3 536.3,515.4 540.0,511.7 544.9,519.2 548.7,510.7 552.4,506.0 555.6,503.6 559.4,504.5 563.1,499.5 566.3,494.8 569.7,492.9 573.5,490.4 576.8,483.5 580.6,494.8 583.8,504.2 588.4,507.0 592.8,509.4 596.5,504.2 599.7,493.5 603.5,492.5 607.2,495.7 610.6,521.0 614.7,498.5 618.1,493.8 621.3,496.6 625.1,490.4 628.4,486.3 632.2,491.6 636.3,488.2 640.1,489.1 643.8,484.4 647.6,479.2 651.3,488.2 654.7,482.6 658.3,501.3 661.7,488.2 665.4,484.1 668.6,487.3 672.4,501.3 676.1,498.5 681.4,490.1 685.1,494.2 688.9,489.1 692.6,484.4 696.0,476.9 699.2,473.2 703.0,474.5 706.1,474.1 709.5,470.4 713.3,480.7 717.0,485.4 720.8,481.1 724.5,478.4 728.7,476.4 732.4,493.5 736.2,481.6 739.6,475.4 743.3,474.1 747.1,483.5 750.3,475.4 754.6,478.4 758.3,475.1 761.7,472.2 764.9,479.2 768.7,472.2 773.4,469.4 776.7,486.3 780.5,491.9 783.7,489.7 787.4,509.4 791.2,504.2 794.9,494.8 798.7,486.3 802.5,477.9 805.8,472.2 809.4,475.1 812.8,473.7 816.9,493.8 820.8,505.5 824.6,486.7 828.4,501.3 832.1,491.0 835.3,488.2 839.1,501.3 842.4,504.2 846.2,535.1 849.9,530.4 853.7,523.5 857.5,532.3 861.6,538.5 865.3,534.2 869.1,540.8 872.5,550.7 876.2,522.0 879.8,513.9 883.5,513.9 887.3,520.1 890.6,529.5 894.4,540.8 897.8,550.7 901.0,552.0 905.3,559.9 909.4,566.1 913.6,537.0 916.9,540.8 920.7,553.9 924.1,565.5 927.8,543.6 931.6,548.3 934.8,542.3 938.5,544.1 941.7,536.1 945.5,522.4 948.8,521.4 953.5,511.3 957.7,516.4 961.4,529.5 964.8,538.3 968.2,526.7 972.3,540.8 976.1,549.2 979.4,554.3 983.2,549.2 986.4,552.4 990.1,535.1 993.5,526.7 997.7,533.2 1001.8,519.2 1005.2,521.4 1008.9,517.3 1012.7,513.9 1016.4,524.8 1020.2,530.4 1024.9,531.0 1028.6,528.6 1034.3,516.7 1037.6,519.2 1041.4,510.7 1045.9,505.5 1050.2,510.7 1053.6,512.0 1057.2,522.9 1060.5,516.0 1064.3,533.2 1068.0,527.6 1071.4,522.4 1075.0,509.8 1078.4,510.3 1082.1,507.0 1085.9,507.3 1090.6,504.2 1094.3,508.8 1097.7,510.7 1101.5,503.2 1105.0,501.0 1108.8,492.9 1112.2,491.0 1115.5,481.2 1119.3,491.0 1122.9,482.9 1126.6,491.0 1130.4,482.6 1134.1,480.1 1138.4,476.0 1141.6,493.8 1145.4,496.1 1149.1,510.3 1152.5,506.4 1156.3,495.1 1160.0,504.2 1163.2,505.1 1167.0,522.9 1167.5,522.9 1170.6,527.1 1174.4,523.9 1178.2,521.6 1181.9,534.2 1186.0,546.8 1189.8,516.7 1193.6,508.8 1196.9,501.0 1200.7,496.6 1204.1,494.4 1207.3,493.5 1211.0,484.4 1214.8,481.2 1218.5,480.1 1222.3,491.9 1227.0,484.4 1232.6,476.9 1237.3,470.4 1241.4,467.0 1244.8,470.4 1248.6,465.7 1252.3,462.3 1256.1,464.7 1258.9,466.0 1262.6,458.7 1266.4,457.6 1270.1,466.0 1273.9,480.7 1278.2,510.3 1282.0,497.2 1285.2,494.4 1289.5,485.4 1293.6,479.4 1296.4,479.7 1300.2,484.4 1303.9,477.9 1307.7,471.7 1311.4,469.4 1315.2,470.0 1319.5,462.9 1322.7,460.0" fill="none" stroke="#7e57c2" stroke-width="1.2" stroke-linejoin="round"/>
</g>
<g clip-path="url(#c3)">
<path d="M 86.5 612.4 C 84.9 612.5 79.7 612.4 76.5 612.8 C 73.3 613.1 70.3 613.5 67.5 614.5 C 64.7 615.5 61.9 616.8 59.9 618.7 C 57.9 620.5 56.2 623.3 55.7 625.6 C 55.3 627.9 56.0 630.4 57.1 632.5 C 58.3 634.6 60.4 636.6 62.7 638.0 C 65.0 639.5 68.2 640.8 71.0 641.1 C 73.7 641.5 77.0 641.1 79.3 640.1 C 81.6 639.1 83.5 637.1 84.8 635.3 C 86.1 633.4 86.9 631.1 87.2 629.0 C 87.6 627.0 86.9 623.9 86.9 622.8" fill="none" stroke="#3d5fea" stroke-width="3.6" stroke-linecap="round" stroke-linejoin="round"/>
<path d="M 455.3 618.6 C 456.2 619.2 459.2 620.4 460.8 622.1 C 462.4 623.7 463.7 625.9 464.6 628.3 C 465.5 630.7 466.3 633.8 466.3 636.6 C 466.4 639.3 465.9 642.9 465.0 644.9 C 464.0 646.9 462.3 648.3 460.8 648.7 C 459.3 649.0 457.3 648.3 456.0 647.0 C 454.6 645.6 453.4 643.1 452.8 640.7 C 452.3 638.3 452.4 635.0 452.8 632.4 C 453.3 629.9 454.3 627.3 455.3 625.5 C 456.2 623.7 458.2 622.3 458.7 621.7" fill="none" stroke="#3d5fea" stroke-width="4.5" stroke-linecap="round" stroke-linejoin="round"/>
<path d="M 695.2 611.3 C 695.9 612.3 697.5 614.6 699.0 617.2 C 700.6 619.8 703.0 623.9 704.6 626.9 C 706.2 629.9 707.8 632.7 708.7 635.2 C 709.6 637.7 710.6 640.3 710.1 642.1 C 709.6 644.0 707.8 645.6 706.0 646.3 C 704.1 647.0 701.4 647.0 699.0 646.3 C 696.7 645.6 693.8 644.1 692.1 642.1 C 690.5 640.2 689.4 637.2 689.0 634.5 C 688.7 631.9 689.3 628.7 690.1 626.2 C 690.8 623.7 692.0 621.1 693.5 619.3 C 695.0 617.5 697.0 616.5 699.0 615.5 C 701.1 614.4 704.5 613.5 705.6 613.1" fill="none" stroke="#3d5fea" stroke-width="4.5" stroke-linecap="round" stroke-linejoin="round"/>
<path d="M 813.6 614.1 C 812.3 614.2 808.4 614.2 806.0 614.8 C 803.5 615.4 800.8 616.2 799.0 617.9 C 797.3 619.6 795.7 622.3 795.2 624.8 C 794.8 627.4 795.4 630.5 796.3 633.1 C 797.1 635.8 798.6 638.7 800.4 640.7 C 802.3 642.7 805.3 644.8 807.3 645.2 C 809.4 645.7 811.6 644.9 812.9 643.5 C 814.2 642.1 815.1 639.0 815.3 636.6 C 815.5 634.2 815.0 631.4 814.3 629.0 C 813.5 626.6 812.2 624.0 810.8 622.1 C 809.4 620.1 807.2 618.3 806.0 617.2 C 804.7 616.1 803.7 615.8 803.2 615.5" fill="none" stroke="#3d5fea" stroke-width="4.5" stroke-linecap="round" stroke-linejoin="round"/>
<path d="M 1321.5 618.9 C 1319.9 618.4 1314.9 616.4 1311.5 615.5 C 1308.1 614.6 1304.2 613.7 1301.1 613.4 C 1298.0 613.1 1295.0 613.0 1292.8 613.8 C 1290.6 614.5 1289.0 615.8 1288.0 617.9 C 1286.9 620.0 1286.5 623.2 1286.6 626.2 C 1286.7 629.2 1287.5 632.8 1288.7 635.9 C 1289.8 639.0 1291.4 642.2 1293.5 644.9 C 1295.6 647.5 1298.4 649.9 1301.1 651.8 C 1303.9 653.7 1307.0 655.5 1310.1 656.3 C 1313.2 657.1 1316.8 657.2 1319.8 656.6 C 1322.8 656.1 1326.0 654.9 1328.1 653.2 C 1330.2 651.4 1331.6 648.7 1332.2 646.3 C 1332.9 643.8 1332.6 641.2 1331.9 638.7 C 1331.2 636.1 1329.8 633.5 1328.1 631.0 C 1326.4 628.6 1324.2 626.1 1321.9 624.1 C 1319.6 622.2 1316.7 620.7 1314.3 619.3 C 1311.8 617.9 1308.5 616.4 1307.3 615.8" fill="none" stroke="#3d5fea" stroke-width="4.5" stroke-linecap="round" stroke-linejoin="round"/>
<path d="M12 638.5H1502" stroke="#f23645" stroke-opacity="0.55" stroke-width="1" stroke-dasharray="3.6 3.72" fill="none"/>
<path d="M12 689.5H1502" stroke="#2962ff" stroke-opacity="0.55" stroke-width="1" stroke-dasharray="3.6 3.72" fill="none"/>
<path d="M12 741.5H1502" stroke="#089981" stroke-opacity="0.55" stroke-width="1" stroke-dasharray="3.6 3.72" fill="none"/>
<polyline points="12.7,642.6 16.1,636.9 20.3,624.2 23.0,631.8 27.2,631.1 31.1,636.9 35.0,642.6 41.5,654.6 46.1,648.4 50.2,639.2 54.1,642.6 58.1,641.9 61.8,646.1 65.0,651.8 68.7,638.0 71.9,632.3 74.9,634.1 78.8,628.8 81.1,643.8 83.4,669.1 85.9,697.9 90.6,669.8 94.5,668.0 98.4,685.3 101.8,660.4 105.5,672.6 108.8,724.4 112.4,709.4 115.9,722.6 119.8,706.5 123.7,702.5 127.2,703.0 130.4,704.8 135.3,683.4 138.7,688.7 142.4,685.3 145.6,680.2 149.8,661.1 153.2,655.3 156.7,666.8 160.4,683.4 164.1,664.5 167.5,650.2 171.0,653.5 174.7,648.8 178.1,645.6 183.2,650.7 186.6,649.1 190.1,643.8 194.0,639.6 197.5,654.1 200.9,646.1 204.6,641.5 208.1,650.7 212.0,665.7 215.4,713.4 218.9,714.5 222.6,749.3 227.0,725.6 230.9,703.7 234.6,721.0 238.0,747.5 241.5,706.5 245.4,737.8 248.8,738.7 252.5,760.1 256.9,735.9 261.5,717.5 266.8,697.2 271.4,696.3 275.3,687.1 278.8,683.4 282.7,665.7 286.2,658.8 289.6,656.5 293.3,671.0 296.8,655.3 300.4,661.8 304.3,654.1 308.0,647.2 311.9,649.5 315.3,653.0 319.5,651.2 323.4,655.3 326.9,666.8 330.3,672.6 334.2,682.9 337.7,707.6 341.2,671.9 344.6,669.1 348.3,649.5 351.8,654.8 355.7,642.6 359.1,641.0 363.7,657.6 367.4,644.5 370.6,679.5 374.6,688.0 378.2,701.8 381.7,715.9 385.2,687.6 388.6,666.8 392.5,656.9 396.0,664.5 399.9,676.7 403.4,681.3 407.5,677.2 411.4,669.8 415.1,653.5 419.0,637.3 423.2,634.6 426.4,634.6 429.4,644.2 432.9,641.0 437.5,645.4 440.9,644.5 444.8,638.7 448.3,641.9 452.0,647.2 455.9,644.9 460.0,637.3 463.3,647.2 466.7,667.3 470.4,648.4 473.9,644.2 477.8,656.5 479.4,692.2 481.2,738.2 484.7,734.8 488.2,764.7 492.1,776.7 495.5,741.7 499.7,738.2 503.8,711.1 507.7,703.0 511.7,704.8 514.7,703.7 518.1,694.5 522.0,698.6 525.5,690.3 528.9,681.1 532.6,667.3 536.1,678.8 540.0,673.3 544.6,679.0 548.1,664.1 551.5,656.0 555.0,654.1 558.9,657.6 562.6,656.0 566.5,648.4 570.0,648.4 573.4,646.1 576.9,638.7 580.3,652.5 583.8,665.7 584.1,665.7 588.8,670.7 592.7,676.0 596.1,669.1 599.6,650.7 603.0,653.0 607.0,659.4 610.4,697.2 614.1,654.1 617.6,641.0 621.0,649.1 624.9,638.0 628.4,634.6 632.3,646.1 636.5,643.3 640.4,649.5 644.1,646.1 647.5,642.2 651.0,654.6 654.2,649.5 658.3,669.6 662.3,648.4 665.7,646.1 669.2,654.1 672.9,669.6 676.3,667.3 680.7,654.8 684.4,657.6 688.3,649.1 692.2,642.6 695.2,629.5 698.7,630.0 702.1,638.0 706.3,643.8 710.2,644.2 713.6,655.3 717.1,661.1 721.0,656.9 725.2,655.8 728.6,656.5 732.5,671.4 736.2,655.3 740.1,647.9 743.6,649.5 747.1,658.3 751.0,646.1 754.4,651.4 757.9,645.4 761.6,642.2 765.0,650.2 768.9,641.5 773.1,642.6 776.5,661.1 780.0,669.1 783.5,667.3 787.4,690.3 791.3,684.1 795.4,665.2 799.4,648.4 802.4,636.9 805.8,621.9 809.3,632.3 813.2,638.0 817.3,662.7 821.2,681.1 824.7,644.2 828.2,667.5 831.8,647.9 835.3,645.4 838.8,666.1 842.7,671.9 846.1,725.6 849.6,718.0 853.5,705.5 857.2,722.1 861.6,735.3 865.3,727.9 869.2,735.5 872.6,745.9 876.1,702.5 879.7,687.6 883.1,686.4 887.3,694.5 890.7,710.6 894.2,726.3 897.6,741.0 901.6,735.9 905.7,744.0 909.6,749.3 913.1,713.6 916.8,718.2 920.7,739.4 924.1,752.1 927.6,722.8 931.1,726.7 935.0,716.4 938.4,717.1 941.9,704.8 945.6,688.2 949.0,684.6 953.6,667.3 957.6,668.7 961.0,687.1 964.5,705.5 968.4,680.6 971.8,709.4 975.5,735.5 979.0,742.2 982.9,730.2 986.4,731.8 989.8,709.4 993.7,689.9 997.9,706.7 1001.8,678.8 1005.5,682.5 1008.9,675.6 1012.9,671.9 1016.3,688.7 1020.2,697.5 1023.9,696.8 1027.4,694.5 1030.6,685.3 1034.3,665.2 1037.7,669.8 1041.7,653.0 1046.3,647.7 1049.7,657.6 1053.2,662.2 1057.1,682.5 1060.6,668.7 1064.0,716.4 1067.7,702.5 1071.2,691.0 1074.6,654.1 1078.5,658.1 1082.0,653.0 1085.9,656.0 1090.5,651.8 1094.2,661.8 1097.6,667.3 1101.6,652.5 1105.0,651.8 1108.5,639.6 1111.9,641.9 1115.4,630.0 1118.8,647.7 1122.8,638.5 1126.2,651.2 1129.9,641.9 1133.8,643.8 1138.0,642.2 1141.4,658.8 1145.3,663.4 1148.8,680.2 1152.7,676.5 1156.2,659.9 1159.9,671.9 1163.3,675.6 1166.8,704.1 1170.7,715.9 1174.2,714.5 1177.6,713.4 1182.3,738.2 1186.2,755.1 1189.9,697.9 1193.3,684.1 1196.8,663.8 1200.7,656.0 1204.6,651.2 1207.6,651.2 1211.1,634.6 1214.5,636.9 1218.4,642.6 1222.1,656.5 1226.0,650.7 1229.5,647.9 1233.4,647.2 1237.6,645.6 1241.0,644.9 1244.9,651.2 1248.6,648.4 1252.1,648.8 1256.0,653.0 1259.0,654.6 1262.9,645.6 1266.4,647.2 1270.3,655.3 1274.4,668.0 1278.3,689.4 1281.8,673.7 1285.3,670.3 1288.9,660.4 1292.9,650.7 1296.8,650.7 1300.2,657.1 1303.7,647.2 1307.4,635.3 1310.8,636.9 1315.2,643.3 1319.4,634.1 1322.4,635.0" fill="none" stroke="#2962ff" stroke-width="1.2" stroke-linejoin="round"/>
</g>
<path d="M12 412.5H1588M12 602.5H1588" stroke="#e9ebf2" stroke-width="1.2" fill="none"/>
<rect x="12.1" y="32.3" width="1576.2" height="793.9" fill="none" stroke="#ebedf3" stroke-width="1.5"/>
<g fill="#131722" stroke="#131722" stroke-width="0.25">
<text x="12.4" y="24" font-size="14.5" textLength="447" lengthAdjust="spacing">Jay1104 published on TradingView.com, Jul 13, 2024 12:08 UTC-4</text>
<text x="21.6" y="56" font-size="14" textLength="153" lengthAdjust="spacing">S&amp;P 500 Index, 1W, SP</text>
<text x="184" y="56" font-size="14" textLength="10.4" lengthAdjust="spacing">O</text>
<text x="195" y="56" font-size="14" textLength="57" lengthAdjust="spacing" fill="#089981" stroke="#089981">5,572.75</text>
<text x="261.6" y="56" font-size="14" textLength="10" lengthAdjust="spacing">H</text>
<text x="272.4" y="56" font-size="14" textLength="58.6" lengthAdjust="spacing" fill="#089981" stroke="#089981">5,655.56</text>
<text x="340.6" y="56" font-size="14" textLength="7.6" lengthAdjust="spacing">L</text>
<text x="349" y="56" font-size="14" textLength="56.6" lengthAdjust="spacing" fill="#089981" stroke="#089981">5,562.51</text>
<text x="414.6" y="56" font-size="14" textLength="9.6" lengthAdjust="spacing">C</text>
<text x="425" y="56" font-size="14" textLength="57.4" lengthAdjust="spacing" fill="#089981" stroke="#089981">5,615.34</text>
<text x="491.6" y="56" font-size="14" textLength="113" lengthAdjust="spacing" fill="#089981" stroke="#089981">+48.14 (+0.86%)</text>
<text x="21.6" y="77" font-size="14" textLength="150.4" lengthAdjust="spacing">BB (20, SMA, close, 2)</text>
<text x="181.6" y="77" font-size="14" textLength="56.4" lengthAdjust="spacing" fill="#2962ff" stroke="#2962ff">5,269.17</text>
<text x="247.4" y="77" font-size="14" textLength="59.2" lengthAdjust="spacing" fill="#f23645" stroke="#f23645">5,600.53</text>
<text x="316" y="77" font-size="14" textLength="57.6" lengthAdjust="spacing" fill="#089981" stroke="#089981">4,937.82</text>
<text x="21.6" y="437" font-size="14" textLength="95.4" lengthAdjust="spacing">RSI (14, close)</text>
<text x="126.6" y="437" font-size="14" textLength="36" lengthAdjust="spacing" fill="#7e57c2" stroke="#7e57c2">77.69</text>
<text x="172" y="437" font-size="14" textLength="38" lengthAdjust="spacing" fill="#ffeb3b" stroke="#ffeb3b">68.47</text>
<g stroke="#131722" stroke-width="1.1" fill="none"><circle cx="223.5" cy="432.3" r="3.6"/><path d="M220.3 437.2L226.7 427.4"/></g>
<g stroke="#131722" stroke-width="1.1" fill="none"><circle cx="242" cy="432.3" r="3.6"/><path d="M238.8 437.2L245.2 427.4"/></g>
<g stroke="#131722" stroke-width="1.1" fill="none"><circle cx="260.5" cy="432.3" r="3.6"/><path d="M257.3 437.2L263.7 427.4"/></g>
<g stroke="#131722" stroke-width="1.1" fill="none"><circle cx="279" cy="432.3" r="3.6"/><path d="M275.8 437.2L282.2 427.4"/></g>
<text x="21.6" y="627" font-size="14" textLength="137" lengthAdjust="spacing">BB %b (20, close, 2)</text>
<text x="168" y="627" font-size="14" textLength="27" lengthAdjust="spacing" fill="#2962ff" stroke="#2962ff">1.02</text>
<rect x="1507.5" y="37.5" width="77" height="30" rx="5" fill="#fff" stroke="#e9ebf2" stroke-width="1"/>
<text x="1518.3" y="56.8" font-size="14" textLength="29.2" lengthAdjust="spacing">USD</text>
<text x="1513.4" y="101.4" font-size="14.5" textLength="62" lengthAdjust="spacing">5,200.00</text>
<text x="1513.4" y="156.4" font-size="14.5" textLength="62" lengthAdjust="spacing">4,400.00</text>
<text x="1513.4" y="195.9" font-size="14.5" textLength="62" lengthAdjust="spacing">3,900.00</text>
<text x="1513.4" y="250.9" font-size="14.5" textLength="62" lengthAdjust="spacing">3,300.00</text>
<text x="1513.4" y="293.4" font-size="14.5" textLength="62" lengthAdjust="spacing">2,900.00</text>
<text x="1513.4" y="341.4" font-size="14.5" textLength="62" lengthAdjust="spacing">2,500.00</text>
<text x="1513.4" y="383.4" font-size="14.5" textLength="62" lengthAdjust="spacing">2,200.00</text>
<text x="1513.4" y="459.7" font-size="14.5" textLength="40" lengthAdjust="spacing">80.00</text>
<text x="1513.4" y="504.7" font-size="14.5" textLength="40" lengthAdjust="spacing">60.00</text>
<text x="1513.4" y="549.7" font-size="14.5" textLength="40" lengthAdjust="spacing">40.00</text>
<text x="1513.4" y="594.7" font-size="14.5" textLength="40" lengthAdjust="spacing">20.00</text>
<text x="1513.4" y="642.7" font-size="14.5" textLength="31" lengthAdjust="spacing">1.00</text>
<text x="1513.4" y="694.2" font-size="14.5" textLength="31" lengthAdjust="spacing">0.50</text>
<text x="1513.4" y="745.7" font-size="14.5" textLength="31" lengthAdjust="spacing">0.00</text>
<text x="50" y="816" font-size="14.5" textLength="37" lengthAdjust="spacing" font-weight="bold">2018</text>
<text x="154.6" y="816" font-size="14.5" textLength="19" lengthAdjust="spacing">Jul</text>
<text x="245.6" y="816" font-size="14.5" textLength="37" lengthAdjust="spacing" font-weight="bold">2019</text>
<text x="355.4" y="816" font-size="14.5" textLength="8" lengthAdjust="spacing">8</text>
<text x="437.1" y="816" font-size="14.5" textLength="37" lengthAdjust="spacing" font-weight="bold">2020</text>
<text x="541.6" y="816" font-size="14.5" textLength="19" lengthAdjust="spacing">Jul</text>
<text x="628.5" y="816" font-size="14.5" textLength="37" lengthAdjust="spacing" font-weight="bold">2021</text>
<text x="733.6" y="816" font-size="14.5" textLength="19" lengthAdjust="spacing">Jul</text>
<text x="820.6" y="816" font-size="14.5" textLength="37" lengthAdjust="spacing" font-weight="bold">2022</text>
<text x="925.6" y="816" font-size="14.5" textLength="19" lengthAdjust="spacing">Jul</text>
<text x="1012.5" y="816" font-size="14.5" textLength="37" lengthAdjust="spacing" font-weight="bold">2023</text>
<text x="1117.4" y="816" font-size="14.5" textLength="19" lengthAdjust="spacing">Jul</text>
<text x="1205" y="816" font-size="14.5" textLength="37" lengthAdjust="spacing" font-weight="bold">2024</text>
<text x="1309.5" y="816" font-size="14.5" textLength="19" lengthAdjust="spacing">Jul</text>
<text x="1399.5" y="816" font-size="14.5" textLength="37" lengthAdjust="spacing" font-weight="bold">2025</text>
<g fill="#131722"><path d="M12 841H21V852.3H16.5V845.5H12z"/><circle cx="25" cy="842.9" r="1.9"/><path d="M29.5 841H35L31 852.3H25.5z"/></g>
<text x="40.6" y="853" font-size="15" textLength="87.4" lengthAdjust="spacing">TradingView</text>
</g>
</svg></body></html>
